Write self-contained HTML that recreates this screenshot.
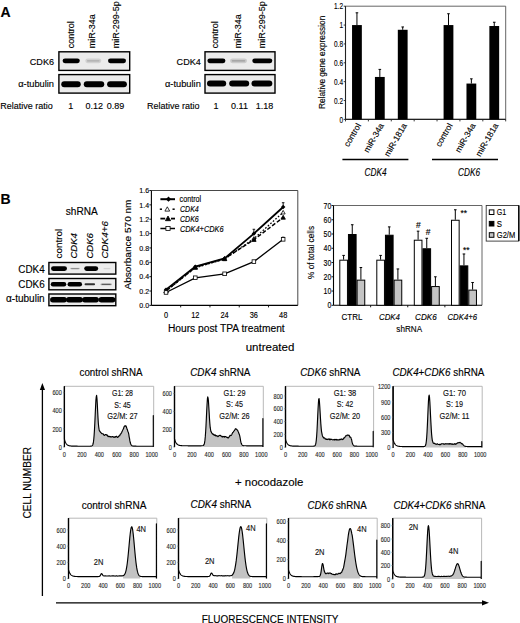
<!DOCTYPE html>
<html><head><meta charset="utf-8"><style>
html,body{margin:0;padding:0;background:#fff;}
svg{display:block;font-family:"Liberation Sans", sans-serif;}
text{stroke:currentColor;stroke-width:0.14px;}
</style></head><body>
<svg width="520" height="623" viewBox="0 0 520 623">
<defs><filter id="bl" x="-20%" y="-80%" width="140%" height="260%"><feGaussianBlur stdDeviation="0.75"/></filter></defs>
<rect width="520" height="623" fill="#fff"/>
<text x="0.5" y="17" font-size="14" text-anchor="start" fill="#000" color="#000" font-weight="bold" >A</text>
<text transform="translate(74.2,48.2) rotate(-90)" font-size="9" text-anchor="start" fill="#000" color="#000"  >control</text>
<text transform="translate(95,48.2) rotate(-90)" font-size="9" text-anchor="start" fill="#000" color="#000"  >miR-34a</text>
<text transform="translate(118.6,48.2) rotate(-90)" font-size="9" text-anchor="start" fill="#000" color="#000"  >miR-299-5p</text>
<rect x="58.900000000000006" y="51.8" width="70.8" height="18.6" fill="#ebebeb" stroke="#000" stroke-width="1.4" />
<rect x="58.900000000000006" y="74.6" width="70.8" height="18.5" fill="#ebebeb" stroke="#000" stroke-width="1.4" />
<rect x="62.6" y="58.449999999999996" width="17.2" height="4.7" rx="2.35" ry="2.35" fill="#000" fill-opacity="1.00" filter="url(#bl)"/>
<rect x="85.3" y="58.449999999999996" width="16" height="4.7" rx="2.35" ry="2.35" fill="#000" fill-opacity="0.11" filter="url(#bl)"/>
<rect x="86.89999999999999" y="60.199999999999996" width="12.8" height="1.2" rx="0.6" fill="#000" fill-opacity="0.18" filter="url(#bl)"/>
<rect x="108.0" y="58.449999999999996" width="18" height="4.7" rx="2.35" ry="2.35" fill="#000" fill-opacity="1.00" filter="url(#bl)"/>
<rect x="61.25" y="81.2" width="19.5" height="6.0" rx="3.0" ry="3.0" fill="#000" fill-opacity="1.00" filter="url(#bl)"/>
<rect x="83.75" y="81.2" width="20.5" height="6.0" rx="3.0" ry="3.0" fill="#000" fill-opacity="1.00" filter="url(#bl)"/>
<rect x="107.1" y="81.2" width="19.8" height="6.0" rx="3.0" ry="3.0" fill="#000" fill-opacity="1.00" filter="url(#bl)"/>
<text x="54" y="65" font-size="9.2" text-anchor="end" fill="#000" color="#000" textLength="24.2" lengthAdjust="spacingAndGlyphs" >CDK6</text>
<text x="54" y="86.8" font-size="9.2" text-anchor="end" fill="#000" color="#000" textLength="35.8" lengthAdjust="spacingAndGlyphs" >&#945;-tubulin</text>
<text x="0.3" y="109.3" font-size="9.9" text-anchor="start" fill="#000" color="#000" textLength="52.5" lengthAdjust="spacingAndGlyphs" >Relative ratio</text>
<text x="70.8" y="109.3" font-size="9.9" text-anchor="middle" fill="#000" color="#000" textLength="5.0" lengthAdjust="spacingAndGlyphs" >1</text>
<text x="94.3" y="109.3" font-size="9.9" text-anchor="middle" fill="#000" color="#000" textLength="17.51" lengthAdjust="spacingAndGlyphs" >0.12</text>
<text x="115.5" y="109.3" font-size="9.9" text-anchor="middle" fill="#000" color="#000" textLength="17.51" lengthAdjust="spacingAndGlyphs" >0.89</text>
<text transform="translate(218.2,48.2) rotate(-90)" font-size="9" text-anchor="start" fill="#000" color="#000"  >control</text>
<text transform="translate(241,48.2) rotate(-90)" font-size="9" text-anchor="start" fill="#000" color="#000"  >miR-34a</text>
<text transform="translate(265,48.2) rotate(-90)" font-size="9" text-anchor="start" fill="#000" color="#000"  >miR-299-5p</text>
<rect x="205.0" y="51.8" width="69.99999999999997" height="18.6" fill="#ebebeb" stroke="#000" stroke-width="1.4" />
<rect x="205.0" y="74.6" width="69.99999999999997" height="18.5" fill="#ebebeb" stroke="#000" stroke-width="1.4" />
<rect x="207.4" y="58.449999999999996" width="18" height="4.7" rx="2.35" ry="2.35" fill="#000" fill-opacity="1.00" filter="url(#bl)"/>
<rect x="230.0" y="58.449999999999996" width="17" height="4.7" rx="2.35" ry="2.35" fill="#000" fill-opacity="0.14" filter="url(#bl)"/>
<rect x="231.7" y="60.199999999999996" width="13.600000000000001" height="1.2" rx="0.6" fill="#000" fill-opacity="0.23" filter="url(#bl)"/>
<rect x="252.3" y="58.449999999999996" width="20" height="4.7" rx="2.35" ry="2.35" fill="#000" fill-opacity="1.00" filter="url(#bl)"/>
<rect x="207.0" y="80.6" width="19.2" height="6.0" rx="3.0" ry="3.0" fill="#000" fill-opacity="1.00" filter="url(#bl)"/>
<rect x="229.2" y="80.6" width="20" height="6.0" rx="3.0" ry="3.0" fill="#000" fill-opacity="1.00" filter="url(#bl)"/>
<rect x="251.49999999999997" y="80.6" width="20.8" height="6.0" rx="3.0" ry="3.0" fill="#000" fill-opacity="1.00" filter="url(#bl)"/>
<text x="200.8" y="65" font-size="9.2" text-anchor="end" fill="#000" color="#000" textLength="24.2" lengthAdjust="spacingAndGlyphs" >CDK4</text>
<text x="200.8" y="86.8" font-size="9.2" text-anchor="end" fill="#000" color="#000" textLength="35.8" lengthAdjust="spacingAndGlyphs" >&#945;-tubulin</text>
<text x="147" y="109.3" font-size="9.9" text-anchor="start" fill="#000" color="#000" textLength="52.5" lengthAdjust="spacingAndGlyphs" >Relative ratio</text>
<text x="216" y="109.3" font-size="9.9" text-anchor="middle" fill="#000" color="#000" textLength="5.0" lengthAdjust="spacingAndGlyphs" >1</text>
<text x="239.5" y="109.3" font-size="9.9" text-anchor="middle" fill="#000" color="#000" textLength="16.85" lengthAdjust="spacingAndGlyphs" >0.11</text>
<text x="264.5" y="109.3" font-size="9.9" text-anchor="middle" fill="#000" color="#000" textLength="17.51" lengthAdjust="spacingAndGlyphs" >1.18</text>
<polyline points="505.7,6.2 345.5,6.2 345.5,119.4 505.7,119.4 505.7,6.2" fill="none" stroke="#555" stroke-width="0.9"/>
<line x1="345.5" y1="6.2" x2="345.5" y2="119.4" stroke="#222" stroke-width="1.1" />
<line x1="345.5" y1="119.4" x2="505.7" y2="119.4" stroke="#222" stroke-width="1.1" />
<line x1="345.5" y1="119.4" x2="345.5" y2="121.4" stroke="#222" stroke-width="0.9" />
<line x1="368.3857142857143" y1="119.4" x2="368.3857142857143" y2="121.4" stroke="#222" stroke-width="0.9" />
<line x1="391.27142857142854" y1="119.4" x2="391.27142857142854" y2="121.4" stroke="#222" stroke-width="0.9" />
<line x1="414.15714285714284" y1="119.4" x2="414.15714285714284" y2="121.4" stroke="#222" stroke-width="0.9" />
<line x1="437.04285714285714" y1="119.4" x2="437.04285714285714" y2="121.4" stroke="#222" stroke-width="0.9" />
<line x1="459.92857142857144" y1="119.4" x2="459.92857142857144" y2="121.4" stroke="#222" stroke-width="0.9" />
<line x1="482.8142857142857" y1="119.4" x2="482.8142857142857" y2="121.4" stroke="#222" stroke-width="0.9" />
<line x1="505.7" y1="119.4" x2="505.7" y2="121.4" stroke="#222" stroke-width="0.9" />
<line x1="343.7" y1="119.4" x2="345.5" y2="119.4" stroke="#222" stroke-width="0.9" />
<text transform="translate(343.0,122.60000000000001) scale(0.72,1)" font-size="9" text-anchor="end">0</text>
<line x1="343.7" y1="100.53333333333333" x2="345.5" y2="100.53333333333333" stroke="#222" stroke-width="0.9" />
<text transform="translate(343.0,103.73333333333333) scale(0.72,1)" font-size="9" text-anchor="end">0.2</text>
<line x1="343.7" y1="81.66666666666667" x2="345.5" y2="81.66666666666667" stroke="#222" stroke-width="0.9" />
<text transform="translate(343.0,84.86666666666667) scale(0.72,1)" font-size="9" text-anchor="end">0.4</text>
<line x1="343.7" y1="62.800000000000004" x2="345.5" y2="62.800000000000004" stroke="#222" stroke-width="0.9" />
<text transform="translate(343.0,66.0) scale(0.72,1)" font-size="9" text-anchor="end">0.6</text>
<line x1="343.7" y1="43.93333333333334" x2="345.5" y2="43.93333333333334" stroke="#222" stroke-width="0.9" />
<text transform="translate(343.0,47.13333333333334) scale(0.72,1)" font-size="9" text-anchor="end">0.8</text>
<line x1="343.7" y1="25.066666666666663" x2="345.5" y2="25.066666666666663" stroke="#222" stroke-width="0.9" />
<text transform="translate(343.0,28.266666666666662) scale(0.72,1)" font-size="9" text-anchor="end">1</text>
<line x1="343.7" y1="6.200000000000003" x2="345.5" y2="6.200000000000003" stroke="#222" stroke-width="0.9" />
<text transform="translate(343.0,9.400000000000002) scale(0.72,1)" font-size="9" text-anchor="end">1.2</text>
<text transform="translate(324.5,109) rotate(-90)" font-size="8.6" text-anchor="start" fill="#000" color="#000" textLength="93.3" lengthAdjust="spacingAndGlyphs" >Relative gene expression</text>
<rect x="352.04285714285714" y="25.066666666666663" width="9.8" height="94.33333333333334" fill="#000" stroke="none" stroke-width="1" />
<line x1="356.9428571428571" y1="12.803333333333342" x2="356.9428571428571" y2="25.066666666666663" stroke="#000" stroke-width="1.0" />
<line x1="355.6428571428571" y1="12.803333333333342" x2="358.24285714285713" y2="12.803333333333342" stroke="#000" stroke-width="1.0" />
<rect x="374.92857142857144" y="76.95" width="9.8" height="42.45" fill="#000" stroke="none" stroke-width="1" />
<line x1="379.8285714285714" y1="69.40333333333334" x2="379.8285714285714" y2="76.95" stroke="#000" stroke-width="1.0" />
<line x1="378.5285714285714" y1="69.40333333333334" x2="381.12857142857143" y2="69.40333333333334" stroke="#000" stroke-width="1.0" />
<rect x="397.81428571428575" y="29.783333333333346" width="9.8" height="89.61666666666666" fill="#000" stroke="none" stroke-width="1" />
<line x1="402.7142857142857" y1="26.953333333333333" x2="402.7142857142857" y2="29.783333333333346" stroke="#000" stroke-width="1.0" />
<line x1="401.4142857142857" y1="26.953333333333333" x2="404.01428571428573" y2="26.953333333333333" stroke="#000" stroke-width="1.0" />
<rect x="443.5857142857143" y="25.066666666666663" width="9.8" height="94.33333333333334" fill="#000" stroke="none" stroke-width="1" />
<line x1="448.48571428571427" y1="13.746666666666655" x2="448.48571428571427" y2="25.066666666666663" stroke="#000" stroke-width="1.0" />
<line x1="447.18571428571425" y1="13.746666666666655" x2="449.7857142857143" y2="13.746666666666655" stroke="#000" stroke-width="1.0" />
<rect x="466.4714285714286" y="83.55333333333334" width="9.8" height="35.846666666666664" fill="#000" stroke="none" stroke-width="1" />
<line x1="471.37142857142857" y1="78.83666666666667" x2="471.37142857142857" y2="83.55333333333334" stroke="#000" stroke-width="1.0" />
<line x1="470.07142857142856" y1="78.83666666666667" x2="472.6714285714286" y2="78.83666666666667" stroke="#000" stroke-width="1.0" />
<rect x="489.3571428571429" y="26.010000000000005" width="9.8" height="93.39" fill="#000" stroke="none" stroke-width="1" />
<line x1="494.25714285714287" y1="22.236666666666665" x2="494.25714285714287" y2="26.010000000000005" stroke="#000" stroke-width="1.0" />
<line x1="492.95714285714286" y1="22.236666666666665" x2="495.5571428571429" y2="22.236666666666665" stroke="#000" stroke-width="1.0" />
<text transform="translate(361.3428571428571,125.4) rotate(-60)" font-size="8.5" text-anchor="end">control</text>
<text transform="translate(384.2285714285714,125.4) rotate(-60)" font-size="8.5" text-anchor="end">miR-34a</text>
<text transform="translate(407.1142857142857,125.4) rotate(-60)" font-size="8.5" text-anchor="end">miR-181a</text>
<text transform="translate(452.88571428571424,125.4) rotate(-60)" font-size="8.5" text-anchor="end">control</text>
<text transform="translate(475.77142857142854,125.4) rotate(-60)" font-size="8.5" text-anchor="end">miR-34a</text>
<text transform="translate(498.65714285714284,125.4) rotate(-60)" font-size="8.5" text-anchor="end">miR-181a</text>
<line x1="342.4" y1="159.4" x2="408.4" y2="159.4" stroke="#000" stroke-width="1.5" />
<line x1="432" y1="159.4" x2="498" y2="159.4" stroke="#000" stroke-width="1.5" />
<text x="375.5" y="176.0" font-size="10" text-anchor="middle" fill="#000" color="#000" font-style="italic" textLength="22" lengthAdjust="spacingAndGlyphs" >CDK4</text>
<text x="469" y="176.0" font-size="10" text-anchor="middle" fill="#000" color="#000" font-style="italic" textLength="22" lengthAdjust="spacingAndGlyphs" >CDK6</text>
<text x="0.5" y="203.5" font-size="14" text-anchor="start" fill="#000" color="#000" font-weight="bold" >B</text>
<text x="65.8" y="214.6" font-size="10" text-anchor="start" fill="#000" color="#000" textLength="32" lengthAdjust="spacingAndGlyphs" >shRNA</text>
<text transform="translate(61.6,258.5) rotate(-90)" font-size="9.9" text-anchor="start" fill="#000" color="#000" textLength="29.6" lengthAdjust="spacingAndGlyphs" >control</text>
<text transform="translate(77,258.6) rotate(-90)" font-size="9.4" text-anchor="start" fill="#000" color="#000" font-style="italic" textLength="25.5" lengthAdjust="spacingAndGlyphs" >CDK4</text>
<text transform="translate(92.9,258.6) rotate(-90)" font-size="9.4" text-anchor="start" fill="#000" color="#000" font-style="italic" textLength="25.5" lengthAdjust="spacingAndGlyphs" >CDK6</text>
<text transform="translate(108.3,258.6) rotate(-90)" font-size="9.6" text-anchor="start" fill="#000" color="#000" font-style="italic" textLength="37.5" lengthAdjust="spacingAndGlyphs" >CDK4+6</text>
<rect x="48.900000000000006" y="262.5" width="66.89999999999999" height="11.6" fill="#ececec" stroke="#000" stroke-width="1.4" />
<rect x="48.900000000000006" y="278.5" width="66.89999999999999" height="11.299999999999999" fill="#ececec" stroke="#000" stroke-width="1.4" />
<rect x="48.900000000000006" y="294.0" width="66.89999999999999" height="11.7" fill="#ececec" stroke="#000" stroke-width="1.4" />
<rect x="51.0" y="266.20000000000005" width="16" height="4.8" rx="2.4" ry="2.4" fill="#000" fill-opacity="1.00" filter="url(#bl)"/>
<rect x="70.0" y="267.85" width="10" height="1.5" rx="0.75" ry="0.75" fill="#000" fill-opacity="0.17" filter="url(#bl)"/>
<rect x="71.0" y="268.0" width="8.0" height="1.2" rx="0.6" fill="#000" fill-opacity="0.27" filter="url(#bl)"/>
<rect x="84.2" y="266.15000000000003" width="14" height="4.9" rx="2.45" ry="2.45" fill="#000" fill-opacity="1.00" filter="url(#bl)"/>
<rect x="103.0" y="267.85" width="8" height="1.5" rx="0.75" ry="0.75" fill="#000" fill-opacity="0.04" filter="url(#bl)"/>
<rect x="103.8" y="268.0" width="6.4" height="1.2" rx="0.6" fill="#000" fill-opacity="0.07" filter="url(#bl)"/>
<rect x="50.75" y="282.0" width="15.5" height="4.4" rx="2.2" ry="2.2" fill="#000" fill-opacity="1.00" filter="url(#bl)"/>
<rect x="67.55" y="282.0" width="14.5" height="4.4" rx="2.2" ry="2.2" fill="#000" fill-opacity="1.00" filter="url(#bl)"/>
<rect x="84.55" y="283.35" width="10.5" height="1.9" rx="0.95" ry="0.95" fill="#000" fill-opacity="0.80" filter="url(#bl)"/>
<rect x="100.45" y="283.40000000000003" width="11.5" height="1.8" rx="0.9" ry="0.9" fill="#000" fill-opacity="0.28" filter="url(#bl)"/>
<rect x="101.60000000000001" y="283.7" width="9.200000000000001" height="1.2" rx="0.6" fill="#000" fill-opacity="0.45" filter="url(#bl)"/>
<rect x="50.1" y="297.0" width="16.8" height="5.4" rx="2.7" ry="2.7" fill="#000" fill-opacity="1.00" filter="url(#bl)"/>
<rect x="66.1" y="297.0" width="16.8" height="5.4" rx="2.7" ry="2.7" fill="#000" fill-opacity="1.00" filter="url(#bl)"/>
<rect x="82.1" y="297.0" width="16.8" height="5.4" rx="2.7" ry="2.7" fill="#000" fill-opacity="1.00" filter="url(#bl)"/>
<rect x="98.6" y="297.0" width="16.8" height="5.4" rx="2.7" ry="2.7" fill="#000" fill-opacity="1.00" filter="url(#bl)"/>
<text x="44.7" y="272.8" font-size="10" text-anchor="end" fill="#000" color="#000" textLength="26.4" lengthAdjust="spacingAndGlyphs" >CDK4</text>
<text x="44.7" y="287.7" font-size="10" text-anchor="end" fill="#000" color="#000" textLength="26.4" lengthAdjust="spacingAndGlyphs" >CDK6</text>
<text x="44.7" y="302.3" font-size="10" text-anchor="end" fill="#000" color="#000" textLength="38.7" lengthAdjust="spacingAndGlyphs" >&#945;-tubulin</text>
<polyline points="297.8,305.4 297.8,190.5 151.4,190.5" fill="none" stroke="#333" stroke-width="0.9"/>
<line x1="151.4" y1="190.5" x2="151.4" y2="305.4" stroke="#000" stroke-width="1.1" />
<line x1="151.4" y1="305.4" x2="297.8" y2="305.4" stroke="#000" stroke-width="1.1" />
<line x1="149.4" y1="305.4" x2="151.4" y2="305.4" stroke="#000" stroke-width="0.9" />
<text x="149.1" y="308.2" font-size="7.84" text-anchor="end" fill="#000" color="#000" textLength="9.8" lengthAdjust="spacingAndGlyphs" >0.0</text>
<line x1="149.4" y1="291.03749999999997" x2="151.4" y2="291.03749999999997" stroke="#000" stroke-width="0.9" />
<text x="149.1" y="293.8375" font-size="7.84" text-anchor="end" fill="#000" color="#000" textLength="9.8" lengthAdjust="spacingAndGlyphs" >0.2</text>
<line x1="149.4" y1="276.67499999999995" x2="151.4" y2="276.67499999999995" stroke="#000" stroke-width="0.9" />
<text x="149.1" y="279.47499999999997" font-size="7.84" text-anchor="end" fill="#000" color="#000" textLength="9.8" lengthAdjust="spacingAndGlyphs" >0.4</text>
<line x1="149.4" y1="262.3125" x2="151.4" y2="262.3125" stroke="#000" stroke-width="0.9" />
<text x="149.1" y="265.1125" font-size="7.84" text-anchor="end" fill="#000" color="#000" textLength="9.8" lengthAdjust="spacingAndGlyphs" >0.6</text>
<line x1="149.4" y1="247.95" x2="151.4" y2="247.95" stroke="#000" stroke-width="0.9" />
<text x="149.1" y="250.75" font-size="7.84" text-anchor="end" fill="#000" color="#000" textLength="9.8" lengthAdjust="spacingAndGlyphs" >0.8</text>
<line x1="149.4" y1="233.58749999999998" x2="151.4" y2="233.58749999999998" stroke="#000" stroke-width="0.9" />
<text x="149.1" y="236.3875" font-size="7.84" text-anchor="end" fill="#000" color="#000" textLength="9.8" lengthAdjust="spacingAndGlyphs" >1.0</text>
<line x1="149.4" y1="219.22499999999997" x2="151.4" y2="219.22499999999997" stroke="#000" stroke-width="0.9" />
<text x="149.1" y="222.02499999999998" font-size="7.84" text-anchor="end" fill="#000" color="#000" textLength="9.8" lengthAdjust="spacingAndGlyphs" >1.2</text>
<line x1="149.4" y1="204.8625" x2="151.4" y2="204.8625" stroke="#000" stroke-width="0.9" />
<text x="149.1" y="207.66250000000002" font-size="7.84" text-anchor="end" fill="#000" color="#000" textLength="9.8" lengthAdjust="spacingAndGlyphs" >1.4</text>
<line x1="149.4" y1="190.5" x2="151.4" y2="190.5" stroke="#000" stroke-width="0.9" />
<text x="149.1" y="193.3" font-size="7.84" text-anchor="end" fill="#000" color="#000" textLength="9.8" lengthAdjust="spacingAndGlyphs" >1.6</text>
<line x1="180.68" y1="305.4" x2="180.68" y2="307.4" stroke="#000" stroke-width="0.9" />
<line x1="209.96" y1="305.4" x2="209.96" y2="307.4" stroke="#000" stroke-width="0.9" />
<line x1="239.24" y1="305.4" x2="239.24" y2="307.4" stroke="#000" stroke-width="0.9" />
<line x1="268.52" y1="305.4" x2="268.52" y2="307.4" stroke="#000" stroke-width="0.9" />
<text x="166.04000000000002" y="318.2" font-size="8.14" text-anchor="middle" fill="#000" color="#000" textLength="4.12" lengthAdjust="spacingAndGlyphs" >0</text>
<text x="195.32" y="318.2" font-size="8.14" text-anchor="middle" fill="#000" color="#000" textLength="8.23" lengthAdjust="spacingAndGlyphs" >12</text>
<text x="224.60000000000002" y="318.2" font-size="8.14" text-anchor="middle" fill="#000" color="#000" textLength="8.23" lengthAdjust="spacingAndGlyphs" >24</text>
<text x="253.88" y="318.2" font-size="8.14" text-anchor="middle" fill="#000" color="#000" textLength="8.23" lengthAdjust="spacingAndGlyphs" >36</text>
<text x="283.15999999999997" y="318.2" font-size="8.14" text-anchor="middle" fill="#000" color="#000" textLength="8.23" lengthAdjust="spacingAndGlyphs" >48</text>
<text x="167.9" y="332.3" font-size="10" text-anchor="start" fill="#000" color="#000" textLength="116.8" lengthAdjust="spacingAndGlyphs" >Hours post TPA treatment</text>
<text transform="translate(130.7,289.5) rotate(-90)" font-size="9.4" text-anchor="start" fill="#000" color="#000" textLength="90" lengthAdjust="spacingAndGlyphs" >Absorbance 570 nm</text>
<polyline points="166.0,291.0 195.3,267.7 224.6,259.1 253.9,238.6 283.2,212.4" fill="none" stroke="#000" stroke-width="1.3" stroke-dasharray="1.6 1.8"/>
<polyline points="166.0,291.0 195.3,267.3 224.6,258.7 253.9,239.7 283.2,217.4" fill="none" stroke="#000" stroke-width="1.5" stroke-dasharray="4 2"/>
<polyline points="166.0,292.5 195.3,277.8 224.6,273.8 253.9,261.6 283.2,239.3" fill="none" stroke="#000" stroke-width="1.3"/>
<polyline points="166.0,289.6 195.3,266.6 224.6,258.4 253.9,233.6 283.2,207.0" fill="none" stroke="#000" stroke-width="1.8"/>
<line x1="253.88" y1="229.27875" x2="253.88" y2="233.58749999999998" stroke="#000" stroke-width="0.9" />
<line x1="252.57999999999998" y1="229.27875" x2="255.18" y2="229.27875" stroke="#000" stroke-width="0.9" />
<line x1="283.15999999999997" y1="202.708125" x2="283.15999999999997" y2="207.016875" stroke="#000" stroke-width="0.9" />
<line x1="281.85999999999996" y1="202.708125" x2="284.46" y2="202.708125" stroke="#000" stroke-width="0.9" />
<line x1="283.15999999999997" y1="237.178125" x2="283.15999999999997" y2="239.33249999999998" stroke="#000" stroke-width="0.9" />
<line x1="281.85999999999996" y1="237.178125" x2="284.46" y2="237.178125" stroke="#000" stroke-width="0.9" />
<polygon points="166.04000000000002,289.03749999999997 168.04000000000002,292.6375 164.04000000000002,292.6375" fill="#fff" stroke="#000" stroke-width="0.8"/>
<polygon points="195.32,265.69843749999995 197.32,269.2984375 193.32,269.2984375" fill="#fff" stroke="#000" stroke-width="0.8"/>
<polygon points="224.60000000000002,257.0809375 226.60000000000002,260.6809375 222.60000000000002,260.6809375" fill="#fff" stroke="#000" stroke-width="0.8"/>
<polygon points="253.88,236.614375 255.88,240.214375 251.88,240.214375" fill="#fff" stroke="#000" stroke-width="0.8"/>
<polygon points="283.15999999999997,210.40281249999998 285.15999999999997,214.00281249999998 281.15999999999997,214.00281249999998" fill="#fff" stroke="#000" stroke-width="0.8"/>
<polygon points="166.04000000000002,288.8375 168.24,292.79749999999996 163.84000000000003,292.79749999999996" fill="#000" stroke="#000" stroke-width="0.8"/>
<polygon points="195.32,265.139375 197.51999999999998,269.09937499999995 193.12,269.09937499999995" fill="#000" stroke="#000" stroke-width="0.8"/>
<polygon points="224.60000000000002,256.521875 226.8,260.481875 222.40000000000003,260.481875" fill="#000" stroke="#000" stroke-width="0.8"/>
<polygon points="253.88,237.4915625 256.08,241.45156249999997 251.68,241.45156249999997" fill="#000" stroke="#000" stroke-width="0.8"/>
<polygon points="283.15999999999997,215.2296875 285.35999999999996,219.1896875 280.96,219.1896875" fill="#000" stroke="#000" stroke-width="0.8"/>
<polygon points="166.04000000000002,287.40125 168.24,289.60125 166.04000000000002,291.80125 163.84000000000003,289.60125" fill="#000"/>
<polygon points="195.32,264.42125 197.51999999999998,266.62125 195.32,268.82124999999996 193.12,266.62125" fill="#000"/>
<polygon points="224.60000000000002,256.16281250000003 226.8,258.3628125 224.60000000000002,260.5628125 222.40000000000003,258.3628125" fill="#000"/>
<polygon points="253.88,231.3875 256.08,233.58749999999998 253.88,235.78749999999997 251.68,233.58749999999998" fill="#000"/>
<polygon points="283.15999999999997,204.816875 285.35999999999996,207.016875 283.15999999999997,209.216875 280.96,207.016875" fill="#000"/>
<rect x="164.24" y="290.67375" width="3.6" height="3.6" fill="#fff" stroke="#000" stroke-width="0.8"/>
<rect x="193.51999999999998" y="275.9521875" width="3.6" height="3.6" fill="#fff" stroke="#000" stroke-width="0.8"/>
<rect x="222.8" y="272.0025" width="3.6" height="3.6" fill="#fff" stroke="#000" stroke-width="0.8"/>
<rect x="252.07999999999998" y="259.794375" width="3.6" height="3.6" fill="#fff" stroke="#000" stroke-width="0.8"/>
<rect x="281.35999999999996" y="237.53249999999997" width="3.6" height="3.6" fill="#fff" stroke="#000" stroke-width="0.8"/>
<line x1="160.4" y1="199.2" x2="175" y2="199.2" stroke="#000" stroke-width="2.0" />
<polygon points="168.5,196.6 171.1,199.2 168.5,201.79999999999998 165.9,199.2" fill="#000"/>
<line x1="159.8" y1="209.2" x2="162" y2="209.2" stroke="#000" stroke-width="1.5" />
<polygon points="167.3,206.79999999999998 169.70000000000002,211.11999999999998 164.9,211.11999999999998" fill="#fff" stroke="#000" stroke-width="0.8"/>
<line x1="172.5" y1="209.2" x2="174.7" y2="209.2" stroke="#000" stroke-width="1.5" />
<line x1="160.4" y1="218.6" x2="165.2" y2="218.6" stroke="#000" stroke-width="1.8" />
<polygon points="168,216.0 170.6,220.68 165.4,220.68" fill="#000" stroke="#000" stroke-width="0.8"/>
<line x1="171" y1="218.6" x2="175" y2="218.6" stroke="#000" stroke-width="1.8" />
<line x1="160.4" y1="228.5" x2="175" y2="228.5" stroke="#000" stroke-width="1.5" />
<rect x="165.9" y="226.4" width="4.2" height="4.2" fill="#fff" stroke="#000" stroke-width="0.8"/>
<text x="179.6" y="202.2" font-size="8.6" text-anchor="start" fill="#000" color="#000" textLength="21.6" lengthAdjust="spacingAndGlyphs" >control</text>
<text x="180" y="212.2" font-size="8.6" text-anchor="start" fill="#000" color="#000" font-style="italic" textLength="18.8" lengthAdjust="spacingAndGlyphs" >CDK4</text>
<text x="180" y="221.6" font-size="8.6" text-anchor="start" fill="#000" color="#000" font-style="italic" textLength="18.8" lengthAdjust="spacingAndGlyphs" >CDK6</text>
<text x="180" y="231.5" font-size="8.6" text-anchor="start" fill="#000" color="#000" font-style="italic" textLength="43.5" lengthAdjust="spacingAndGlyphs" >CDK4+CDK6</text>
<polyline points="482,305.3 482,205.5 333.5,205.5" fill="none" stroke="#555" stroke-width="0.9"/>
<line x1="333.5" y1="205.5" x2="333.5" y2="305.3" stroke="#000" stroke-width="1.1" />
<line x1="333.5" y1="305.3" x2="482" y2="305.3" stroke="#000" stroke-width="1.1" />
<line x1="331.5" y1="305.3" x2="333.5" y2="305.3" stroke="#000" stroke-width="0.9" />
<text x="331.3" y="308.3" font-size="8.6" text-anchor="end" fill="#000" color="#000" textLength="3.85" lengthAdjust="spacingAndGlyphs" >0</text>
<line x1="331.5" y1="291.04285714285714" x2="333.5" y2="291.04285714285714" stroke="#000" stroke-width="0.9" />
<text x="331.3" y="294.04285714285714" font-size="8.6" text-anchor="end" fill="#000" color="#000" textLength="7.7" lengthAdjust="spacingAndGlyphs" >10</text>
<line x1="331.5" y1="276.7857142857143" x2="333.5" y2="276.7857142857143" stroke="#000" stroke-width="0.9" />
<text x="331.3" y="279.7857142857143" font-size="8.6" text-anchor="end" fill="#000" color="#000" textLength="7.7" lengthAdjust="spacingAndGlyphs" >20</text>
<line x1="331.5" y1="262.5285714285714" x2="333.5" y2="262.5285714285714" stroke="#000" stroke-width="0.9" />
<text x="331.3" y="265.5285714285714" font-size="8.6" text-anchor="end" fill="#000" color="#000" textLength="7.7" lengthAdjust="spacingAndGlyphs" >30</text>
<line x1="331.5" y1="248.27142857142857" x2="333.5" y2="248.27142857142857" stroke="#000" stroke-width="0.9" />
<text x="331.3" y="251.27142857142857" font-size="8.6" text-anchor="end" fill="#000" color="#000" textLength="7.7" lengthAdjust="spacingAndGlyphs" >40</text>
<line x1="331.5" y1="234.01428571428573" x2="333.5" y2="234.01428571428573" stroke="#000" stroke-width="0.9" />
<text x="331.3" y="237.01428571428573" font-size="8.6" text-anchor="end" fill="#000" color="#000" textLength="7.7" lengthAdjust="spacingAndGlyphs" >50</text>
<line x1="331.5" y1="219.75714285714287" x2="333.5" y2="219.75714285714287" stroke="#000" stroke-width="0.9" />
<text x="331.3" y="222.75714285714287" font-size="8.6" text-anchor="end" fill="#000" color="#000" textLength="7.7" lengthAdjust="spacingAndGlyphs" >60</text>
<line x1="331.5" y1="205.5" x2="333.5" y2="205.5" stroke="#000" stroke-width="0.9" />
<text x="331.3" y="208.5" font-size="8.6" text-anchor="end" fill="#000" color="#000" textLength="7.7" lengthAdjust="spacingAndGlyphs" >70</text>
<line x1="370.625" y1="305.3" x2="370.625" y2="307.3" stroke="#000" stroke-width="0.9" />
<line x1="407.75" y1="305.3" x2="407.75" y2="307.3" stroke="#000" stroke-width="0.9" />
<line x1="444.875" y1="305.3" x2="444.875" y2="307.3" stroke="#000" stroke-width="0.9" />
<text transform="translate(314,278.9) rotate(-90)" font-size="8.4" text-anchor="start" fill="#000" color="#000" textLength="52.9" lengthAdjust="spacingAndGlyphs" >% of total cells</text>
<line x1="343.6" y1="255.4" x2="343.6" y2="259.6771428571429" stroke="#000" stroke-width="1.0" />
<line x1="342.3" y1="255.4" x2="344.90000000000003" y2="255.4" stroke="#000" stroke-width="1.0" />
<rect x="339.8" y="260.1771428571429" width="7.65" height="45.12285714285713" fill="#fff" stroke="#000" stroke-width="1.0" />
<line x1="352.25" y1="224.74714285714288" x2="352.25" y2="234.01428571428573" stroke="#000" stroke-width="1.0" />
<line x1="350.95" y1="224.74714285714288" x2="353.55" y2="224.74714285714288" stroke="#000" stroke-width="1.0" />
<rect x="348.45" y="234.51428571428573" width="7.65" height="70.78571428571428" fill="#000" stroke="#000" stroke-width="1.0" />
<line x1="360.90000000000003" y1="267.5185714285714" x2="360.90000000000003" y2="279.63714285714286" stroke="#000" stroke-width="1.0" />
<line x1="359.6" y1="267.5185714285714" x2="362.20000000000005" y2="267.5185714285714" stroke="#000" stroke-width="1.0" />
<rect x="357.1" y="280.13714285714286" width="7.65" height="25.16285714285715" fill="#c4c4c4" stroke="#000" stroke-width="1.0" />
<line x1="380.6" y1="255.4" x2="380.6" y2="259.6771428571429" stroke="#000" stroke-width="1.0" />
<line x1="379.3" y1="255.4" x2="381.90000000000003" y2="255.4" stroke="#000" stroke-width="1.0" />
<rect x="376.8" y="260.1771428571429" width="7.65" height="45.12285714285713" fill="#fff" stroke="#000" stroke-width="1.0" />
<line x1="389.25" y1="226.8857142857143" x2="389.25" y2="234.72714285714287" stroke="#000" stroke-width="1.0" />
<line x1="387.95" y1="226.8857142857143" x2="390.55" y2="226.8857142857143" stroke="#000" stroke-width="1.0" />
<rect x="385.45" y="235.22714285714287" width="7.65" height="70.07285714285715" fill="#000" stroke="#000" stroke-width="1.0" />
<line x1="397.90000000000003" y1="268.94428571428574" x2="397.90000000000003" y2="279.63714285714286" stroke="#000" stroke-width="1.0" />
<line x1="396.6" y1="268.94428571428574" x2="399.20000000000005" y2="268.94428571428574" stroke="#000" stroke-width="1.0" />
<rect x="394.1" y="280.13714285714286" width="7.65" height="25.16285714285715" fill="#c4c4c4" stroke="#000" stroke-width="1.0" />
<line x1="418.1" y1="231.16285714285715" x2="418.1" y2="239.71714285714285" stroke="#000" stroke-width="1.0" />
<line x1="416.8" y1="231.16285714285715" x2="419.40000000000003" y2="231.16285714285715" stroke="#000" stroke-width="1.0" />
<rect x="414.3" y="240.21714285714285" width="7.65" height="65.08285714285716" fill="#fff" stroke="#000" stroke-width="1.0" />
<line x1="426.75" y1="238.29142857142858" x2="426.75" y2="248.27142857142857" stroke="#000" stroke-width="1.0" />
<line x1="425.45" y1="238.29142857142858" x2="428.05" y2="238.29142857142858" stroke="#000" stroke-width="1.0" />
<rect x="422.95" y="248.77142857142857" width="7.65" height="56.52857142857144" fill="#000" stroke="#000" stroke-width="1.0" />
<line x1="435.40000000000003" y1="276.7857142857143" x2="435.40000000000003" y2="286.05285714285714" stroke="#000" stroke-width="1.0" />
<line x1="434.1" y1="276.7857142857143" x2="436.70000000000005" y2="276.7857142857143" stroke="#000" stroke-width="1.0" />
<rect x="431.6" y="286.55285714285714" width="7.65" height="18.747142857142876" fill="#c4c4c4" stroke="#000" stroke-width="1.0" />
<line x1="455.3" y1="209.77714285714285" x2="455.3" y2="219.75714285714287" stroke="#000" stroke-width="1.0" />
<line x1="454.0" y1="209.77714285714285" x2="456.6" y2="209.77714285714285" stroke="#000" stroke-width="1.0" />
<rect x="451.5" y="220.25714285714287" width="7.65" height="85.04285714285714" fill="#fff" stroke="#000" stroke-width="1.0" />
<line x1="463.95" y1="253.9742857142857" x2="463.95" y2="265.38" stroke="#000" stroke-width="1.0" />
<line x1="462.65" y1="253.9742857142857" x2="465.25" y2="253.9742857142857" stroke="#000" stroke-width="1.0" />
<rect x="460.15" y="265.88" width="7.65" height="39.420000000000016" fill="#000" stroke="#000" stroke-width="1.0" />
<line x1="472.6" y1="282.48857142857145" x2="472.6" y2="289.6171428571429" stroke="#000" stroke-width="1.0" />
<line x1="471.3" y1="282.48857142857145" x2="473.90000000000003" y2="282.48857142857145" stroke="#000" stroke-width="1.0" />
<rect x="468.8" y="290.1171428571429" width="7.65" height="15.18285714285713" fill="#c4c4c4" stroke="#000" stroke-width="1.0" />
<text x="418.3" y="227.8" font-size="8.5" text-anchor="middle" fill="#000" color="#000"  >#</text>
<text x="428" y="234.8" font-size="8.5" text-anchor="middle" fill="#000" color="#000"  >#</text>
<text x="463.8" y="216.0" font-size="8.5" text-anchor="middle" fill="#000" color="#000"  >**</text>
<text x="466.3" y="252.6" font-size="8.5" text-anchor="middle" fill="#000" color="#000"  >**</text>
<rect x="486.2" y="205.5" width="32.6" height="35.6" fill="#fff" stroke="#333" stroke-width="0.9" />
<line x1="518.8" y1="205.5" x2="518.8" y2="241.1" stroke="#000" stroke-width="1.4" />
<rect x="489.3" y="209.89999999999998" width="4.6" height="4.6" fill="#fff" stroke="#000" stroke-width="1.0" />
<text x="496.8" y="215.29999999999998" font-size="8.6" text-anchor="start" fill="#000" color="#000" textLength="9.4" lengthAdjust="spacingAndGlyphs" >G1</text>
<rect x="489.3" y="221.39999999999998" width="4.6" height="4.6" fill="#000" stroke="#000" stroke-width="1.0" />
<text x="496.8" y="226.79999999999998" font-size="8.6" text-anchor="start" fill="#000" color="#000" textLength="5.2" lengthAdjust="spacingAndGlyphs" >S</text>
<rect x="489.3" y="232.7" width="4.6" height="4.6" fill="#c4c4c4" stroke="#000" stroke-width="1.0" />
<text x="496.8" y="238.1" font-size="8.6" text-anchor="start" fill="#000" color="#000" textLength="18.4" lengthAdjust="spacingAndGlyphs" >G2/M</text>
<text x="352" y="319.5" font-size="9" text-anchor="middle" fill="#000" color="#000" textLength="20.9" lengthAdjust="spacingAndGlyphs" >CTRL</text>
<text x="389.5" y="319.5" font-size="9" text-anchor="middle" fill="#000" color="#000" font-style="italic" textLength="20.9" lengthAdjust="spacingAndGlyphs" >CDK4</text>
<text x="425.9" y="319.5" font-size="9" text-anchor="middle" fill="#000" color="#000" font-style="italic" textLength="21.6" lengthAdjust="spacingAndGlyphs" >CDK6</text>
<text x="462.3" y="319.5" font-size="9" text-anchor="middle" fill="#000" color="#000" font-style="italic" textLength="29.6" lengthAdjust="spacingAndGlyphs" >CDK4+6</text>
<text x="409.2" y="332.0" font-size="9.9" text-anchor="middle" fill="#000" color="#000" textLength="25.7" lengthAdjust="spacingAndGlyphs" >shRNA</text>
<text x="270" y="351.2" font-size="11.5" text-anchor="middle" fill="#000" color="#000" textLength="48.6" lengthAdjust="spacingAndGlyphs" >untreated</text>
<text x="269.2" y="485.8" font-size="11" text-anchor="middle" fill="#000" color="#000" textLength="68.4" lengthAdjust="spacingAndGlyphs" >+ nocodazole</text>
<line x1="42.4" y1="388" x2="42.4" y2="596" stroke="#000" stroke-width="1.3" />
<polygon points="42.4,383 39.8,390 45,390" fill="#000"/>
<line x1="56" y1="602.8" x2="484" y2="602.8" stroke="#000" stroke-width="1.3" />
<polygon points="489,602.8 482,600.2 482,605.4" fill="#000"/>
<text transform="translate(31.3,518.5) rotate(-90)" font-size="10" text-anchor="start" fill="#000" color="#000" textLength="71.5" lengthAdjust="spacingAndGlyphs" >CELL NUMBER</text>
<text x="201.7" y="622.6" font-size="10.6" text-anchor="start" fill="#000" color="#000" textLength="136.8" lengthAdjust="spacingAndGlyphs" >FLUORESCENCE INTENSITY</text>
<polyline points="64.40,386.30 153.70,386.30 153.70,446.90" fill="none" stroke="#b0b0b0" stroke-width="0.9"/>
<path d="M92.75,446.90 L92.75,444.92 L93.10,443.79 L93.45,441.91 L93.80,439.01 L94.15,434.83 L94.50,429.26 L94.85,422.43 L95.20,414.80 L95.55,407.23 L95.90,400.36 L96.25,396.87 L96.60,395.38 L96.95,398.21 L97.30,404.05 L97.65,411.28 L98.00,417.89 L98.35,423.30 L98.70,426.87 L99.05,429.17 L99.40,430.92 L99.75,431.12 L100.10,431.57 L100.45,432.33 L100.80,432.58 L101.15,432.85 L101.50,433.25 L101.85,433.60 L102.20,433.69 L102.55,433.71 L102.90,433.79 L103.25,434.06 L103.60,434.77 L103.95,435.09 L104.30,435.40 L104.65,435.21 L105.00,434.80 L105.35,434.62 L105.70,434.52 L106.05,434.46 L106.40,435.06 L106.75,434.85 L107.10,434.92 L107.45,435.63 L107.80,436.22 L108.15,436.66 L108.50,436.16 L108.85,436.39 L109.20,436.72 L109.55,436.39 L109.90,436.48 L110.25,436.86 L110.60,437.04 L110.95,436.77 L111.30,436.98 L111.65,437.03 L112.00,436.58 L112.35,436.56 L112.70,436.70 L113.05,436.64 L113.40,437.10 L113.75,437.02 L114.10,436.94 L114.45,437.14 L114.80,437.37 L115.15,436.67 L115.50,436.60 L115.85,436.89 L116.20,436.65 L116.55,436.25 L116.90,436.84 L117.25,437.23 L117.60,437.35 L117.95,436.77 L118.30,436.93 L118.65,436.38 L119.00,435.95 L119.35,435.69 L119.70,435.74 L120.05,434.79 L120.40,434.14 L120.75,433.78 L121.10,433.61 L121.45,432.77 L121.80,432.18 L122.15,431.29 L122.50,430.66 L122.85,429.63 L123.20,429.30 L123.55,428.61 L123.90,427.26 L124.25,426.33 L124.60,426.30 L124.95,425.72 L125.30,426.05 L125.65,425.76 L126.00,426.01 L126.35,426.82 L126.70,427.88 L127.05,429.23 L127.40,429.58 L127.75,431.16 L128.10,431.87 L128.45,432.77 L128.80,434.47 L129.15,436.83 L129.50,438.39 L129.85,440.66 L130.20,442.28 L130.55,443.52 L130.90,444.40 L131.25,445.00 L131.60,445.41 L131.95,445.67 L132.30,445.85 L132.65,445.97 L133.00,446.05 L133.00,446.90 Z" fill="#c3c3c3"/>
<path d="M64.40,386.30 L64.40,439.20 L64.75,440.44 L65.10,441.46 L65.45,442.29 L65.80,442.98 L66.15,443.55 L66.50,444.02 L66.85,444.41 L67.20,444.72 L67.55,444.98 L67.90,445.20 L68.25,445.38 L68.60,445.52 L68.95,445.64 L69.30,445.74 L69.65,445.82 L70.00,445.89 L70.35,445.94 L70.70,445.99 L71.05,446.03 L71.40,446.06 L71.75,446.08 L72.10,446.10 L72.45,446.12 L72.80,446.13 L73.15,446.15 L73.50,446.16 L73.85,446.16 L74.20,446.17 L74.55,446.18 L74.90,446.18 L75.25,446.18 L75.60,446.19 L75.95,446.19 L76.30,446.19 L76.65,446.19 L77.00,446.19 L77.35,446.19 L77.70,446.20 L78.05,446.20 L78.40,446.20 L78.75,446.20 L79.10,446.20 L79.45,446.20 L79.80,446.20 L80.15,446.20 L80.50,446.20 L80.85,446.20 L81.20,446.20 L81.55,446.20 L81.90,446.20 L82.25,446.20 L82.60,446.20 L82.95,446.20 L83.30,446.20 L83.65,446.20 L84.00,446.20 L84.35,446.20 L84.70,446.20 L85.05,446.20 L85.40,446.20 L85.75,446.20 L86.10,446.20 L86.45,446.20 L86.80,446.20 L87.15,446.20 L87.50,446.20 L87.85,446.20 L88.20,446.20 L88.55,446.20 L88.90,446.20 L89.25,446.20 L89.60,446.20 L89.95,446.20 L90.30,446.20 L90.65,446.19 L91.00,446.18 L91.35,446.14 L91.70,446.06 L92.05,445.90 L92.40,445.56 L92.75,444.92 L93.10,443.79 L93.45,441.91 L93.80,439.01 L94.15,434.83 L94.50,429.26 L94.85,422.43 L95.20,414.80 L95.55,407.23 L95.90,400.36 L96.25,396.87 L96.60,395.38 L96.95,398.21 L97.30,404.05 L97.65,411.28 L98.00,417.89 L98.35,423.30 L98.70,426.87 L99.05,429.17 L99.40,430.92 L99.75,431.12 L100.10,431.57 L100.45,432.33 L100.80,432.58 L101.15,432.85 L101.50,433.25 L101.85,433.60 L102.20,433.69 L102.55,433.71 L102.90,433.79 L103.25,434.06 L103.60,434.77 L103.95,435.09 L104.30,435.40 L104.65,435.21 L105.00,434.80 L105.35,434.62 L105.70,434.52 L106.05,434.46 L106.40,435.06 L106.75,434.85 L107.10,434.92 L107.45,435.63 L107.80,436.22 L108.15,436.66 L108.50,436.16 L108.85,436.39 L109.20,436.72 L109.55,436.39 L109.90,436.48 L110.25,436.86 L110.60,437.04 L110.95,436.77 L111.30,436.98 L111.65,437.03 L112.00,436.58 L112.35,436.56 L112.70,436.70 L113.05,436.64 L113.40,437.10 L113.75,437.02 L114.10,436.94 L114.45,437.14 L114.80,437.37 L115.15,436.67 L115.50,436.60 L115.85,436.89 L116.20,436.65 L116.55,436.25 L116.90,436.84 L117.25,437.23 L117.60,437.35 L117.95,436.77 L118.30,436.93 L118.65,436.38 L119.00,435.95 L119.35,435.69 L119.70,435.74 L120.05,434.79 L120.40,434.14 L120.75,433.78 L121.10,433.61 L121.45,432.77 L121.80,432.18 L122.15,431.29 L122.50,430.66 L122.85,429.63 L123.20,429.30 L123.55,428.61 L123.90,427.26 L124.25,426.33 L124.60,426.30 L124.95,425.72 L125.30,426.05 L125.65,425.76 L126.00,426.01 L126.35,426.82 L126.70,427.88 L127.05,429.23 L127.40,429.58 L127.75,431.16 L128.10,431.87 L128.45,432.77 L128.80,434.47 L129.15,436.83 L129.50,438.39 L129.85,440.66 L130.20,442.28 L130.55,443.52 L130.90,444.40 L131.25,445.00 L131.60,445.41 L131.95,445.67 L132.30,445.85 L132.65,445.97 L133.00,446.05 L133.35,446.10 L133.70,446.14 L134.05,446.16 L134.40,446.17 L134.75,446.18 L135.10,446.19 L135.45,446.19 L135.80,446.19 L136.15,446.19 L136.50,446.20 L136.85,446.20 L137.20,446.20 L137.55,446.20 L137.90,446.20 L138.25,446.20 L138.60,446.20 L138.95,446.20 L139.30,446.20 L139.65,446.20 L140.00,446.20 L140.35,446.20 L140.70,446.20 L141.05,446.20 L141.40,446.20 L141.75,446.20 L142.10,446.20 L142.45,446.20 L142.80,446.20 L143.15,446.20 L143.50,446.20 L143.85,446.20 L144.20,446.20 L144.55,446.20 L144.90,446.20 L145.25,446.20 L145.60,446.20 L145.95,446.20 L146.30,446.20 L146.65,446.20 L147.00,446.20 L147.35,446.20 L147.70,446.20 L148.05,446.20 L148.40,446.20 L148.75,446.20 L149.10,446.20 L149.45,446.20 L149.80,446.20 L150.15,446.20 L150.50,446.20 L150.85,446.20 L151.20,446.20 L151.55,446.20 L151.90,446.20 L152.25,446.20 L152.60,446.20 L152.95,446.20 L153.30,446.20 L153.30,446.20 L153.30,415.60 L153.30,446.90" fill="none" stroke="#000" stroke-width="1.15" stroke-linejoin="round"/>
<line x1="64.4" y1="386.3" x2="64.4" y2="447.2" stroke="#000" stroke-width="1.3" />
<line x1="63.10000000000001" y1="446.9" x2="64.4" y2="446.9" stroke="#666" stroke-width="0.6" />
<text x="61.800000000000004" y="449.59999999999997" font-size="7.5" text-anchor="end" fill="#2a2a2a" color="#2a2a2a" textLength="3.13" lengthAdjust="spacingAndGlyphs" >0</text>
<line x1="63.10000000000001" y1="428.84" x2="64.4" y2="428.84" stroke="#666" stroke-width="0.6" />
<text x="61.800000000000004" y="431.53999999999996" font-size="7.5" text-anchor="end" fill="#2a2a2a" color="#2a2a2a" textLength="9.39" lengthAdjust="spacingAndGlyphs" >200</text>
<line x1="63.10000000000001" y1="410.78" x2="64.4" y2="410.78" stroke="#666" stroke-width="0.6" />
<text x="61.800000000000004" y="413.47999999999996" font-size="7.5" text-anchor="end" fill="#2a2a2a" color="#2a2a2a" textLength="9.39" lengthAdjust="spacingAndGlyphs" >400</text>
<line x1="63.10000000000001" y1="392.71999999999997" x2="64.4" y2="392.71999999999997" stroke="#666" stroke-width="0.6" />
<text x="61.800000000000004" y="395.41999999999996" font-size="7.5" text-anchor="end" fill="#2a2a2a" color="#2a2a2a" textLength="9.39" lengthAdjust="spacingAndGlyphs" >600</text>
<text x="64.4" y="457.2" font-size="7.0" text-anchor="middle" fill="#2a2a2a" color="#2a2a2a" textLength="3.1" lengthAdjust="spacingAndGlyphs" >0</text>
<text x="81.85845552297165" y="457.2" font-size="7.0" text-anchor="middle" fill="#2a2a2a" color="#2a2a2a" textLength="9.3" lengthAdjust="spacingAndGlyphs" >200</text>
<text x="99.3169110459433" y="457.2" font-size="7.0" text-anchor="middle" fill="#2a2a2a" color="#2a2a2a" textLength="9.3" lengthAdjust="spacingAndGlyphs" >400</text>
<text x="116.77536656891496" y="457.2" font-size="7.0" text-anchor="middle" fill="#2a2a2a" color="#2a2a2a" textLength="9.3" lengthAdjust="spacingAndGlyphs" >600</text>
<text x="134.2338220918866" y="457.2" font-size="7.0" text-anchor="middle" fill="#2a2a2a" color="#2a2a2a" textLength="9.3" lengthAdjust="spacingAndGlyphs" >800</text>
<text x="151.69227761485826" y="457.2" font-size="7.0" text-anchor="middle" fill="#2a2a2a" color="#2a2a2a" textLength="12.4" lengthAdjust="spacingAndGlyphs" >1000</text>
<text x="111" y="376.4" font-size="10" text-anchor="middle" textLength="63" lengthAdjust="spacingAndGlyphs"><tspan>control shRNA</tspan></text>
<text x="122.5" y="396.4" font-size="8.9" text-anchor="middle" fill="#111" color="#111" textLength="21" lengthAdjust="spacingAndGlyphs" >G1: 28</text>
<text x="122.5" y="407.7" font-size="8.9" text-anchor="middle" fill="#111" color="#111" textLength="16.5" lengthAdjust="spacingAndGlyphs" >S: 45</text>
<text x="122.5" y="419.0" font-size="8.9" text-anchor="middle" fill="#111" color="#111" textLength="30.4" lengthAdjust="spacingAndGlyphs" >G2/M: 27</text>
<polyline points="174.50,386.30 263.30,386.30 263.30,446.90" fill="none" stroke="#b0b0b0" stroke-width="0.9"/>
<path d="M203.55,446.90 L203.55,445.34 L203.90,444.87 L204.25,444.00 L204.60,442.52 L204.95,440.15 L205.30,436.65 L205.65,431.82 L206.00,425.68 L206.35,418.52 L206.70,411.05 L207.05,404.49 L207.40,398.96 L207.75,396.78 L208.10,398.04 L208.45,401.18 L208.80,406.72 L209.15,412.55 L209.50,418.86 L209.85,423.66 L210.20,427.44 L210.55,429.49 L210.90,431.44 L211.25,431.73 L211.60,432.91 L211.95,432.95 L212.30,433.79 L212.65,434.17 L213.00,433.87 L213.35,434.44 L213.70,434.86 L214.05,434.64 L214.40,434.87 L214.75,435.45 L215.10,434.85 L215.45,435.39 L215.80,435.92 L216.15,435.99 L216.50,435.76 L216.85,435.49 L217.20,436.02 L217.55,436.16 L217.90,436.62 L218.25,436.50 L218.60,436.08 L218.95,435.84 L219.30,435.50 L219.65,435.44 L220.00,435.29 L220.35,435.37 L220.70,435.70 L221.05,436.21 L221.40,436.09 L221.75,436.40 L222.10,436.86 L222.45,436.81 L222.80,436.31 L223.15,436.79 L223.50,436.63 L223.85,436.73 L224.20,436.67 L224.55,437.05 L224.90,436.41 L225.25,436.74 L225.60,436.60 L225.95,436.70 L226.30,437.22 L226.65,436.99 L227.00,437.29 L227.35,437.59 L227.70,437.82 L228.05,437.83 L228.40,437.89 L228.75,437.32 L229.10,437.03 L229.45,436.27 L229.80,435.73 L230.15,435.21 L230.50,435.58 L230.85,435.49 L231.20,435.50 L231.55,434.96 L231.90,434.34 L232.25,433.50 L232.60,432.78 L232.95,432.53 L233.30,431.92 L233.65,431.16 L234.00,430.98 L234.35,430.66 L234.70,429.89 L235.05,429.61 L235.40,428.73 L235.75,428.70 L236.10,428.94 L236.45,429.17 L236.80,429.50 L237.15,429.98 L237.50,430.26 L237.85,430.82 L238.20,431.71 L238.55,432.32 L238.90,433.63 L239.25,434.28 L239.60,435.26 L239.95,436.86 L240.30,438.92 L240.65,441.03 L241.00,442.48 L241.35,443.58 L241.70,444.35 L242.05,444.87 L242.40,445.20 L242.75,445.42 L243.10,445.56 L243.45,445.65 L243.80,445.70 L243.80,446.90 Z" fill="#c3c3c3"/>
<path d="M174.50,386.30 L174.50,438.80 L174.85,440.04 L175.20,441.06 L175.55,441.89 L175.90,442.58 L176.25,443.15 L176.60,443.62 L176.95,444.01 L177.30,444.32 L177.65,444.58 L178.00,444.80 L178.35,444.98 L178.70,445.12 L179.05,445.24 L179.40,445.34 L179.75,445.42 L180.10,445.49 L180.45,445.54 L180.80,445.59 L181.15,445.63 L181.50,445.66 L181.85,445.68 L182.20,445.70 L182.55,445.72 L182.90,445.73 L183.25,445.75 L183.60,445.76 L183.95,445.76 L184.30,445.77 L184.65,445.78 L185.00,445.78 L185.35,445.78 L185.70,445.79 L186.05,445.79 L186.40,445.79 L186.75,445.79 L187.10,445.79 L187.45,445.79 L187.80,445.80 L188.15,445.80 L188.50,445.80 L188.85,445.80 L189.20,445.80 L189.55,445.80 L189.90,445.80 L190.25,445.80 L190.60,445.80 L190.95,445.80 L191.30,445.80 L191.65,445.80 L192.00,445.80 L192.35,445.80 L192.70,445.80 L193.05,445.80 L193.40,445.80 L193.75,445.80 L194.10,445.80 L194.45,445.80 L194.80,445.80 L195.15,445.80 L195.50,445.80 L195.85,445.80 L196.20,445.80 L196.55,445.80 L196.90,445.80 L197.25,445.80 L197.60,445.80 L197.95,445.80 L198.30,445.80 L198.65,445.80 L199.00,445.80 L199.35,445.80 L199.70,445.80 L200.05,445.80 L200.40,445.80 L200.75,445.80 L201.10,445.80 L201.45,445.80 L201.80,445.79 L202.15,445.78 L202.50,445.76 L202.85,445.71 L203.20,445.59 L203.55,445.34 L203.90,444.87 L204.25,444.00 L204.60,442.52 L204.95,440.15 L205.30,436.65 L205.65,431.82 L206.00,425.68 L206.35,418.52 L206.70,411.05 L207.05,404.49 L207.40,398.96 L207.75,396.78 L208.10,398.04 L208.45,401.18 L208.80,406.72 L209.15,412.55 L209.50,418.86 L209.85,423.66 L210.20,427.44 L210.55,429.49 L210.90,431.44 L211.25,431.73 L211.60,432.91 L211.95,432.95 L212.30,433.79 L212.65,434.17 L213.00,433.87 L213.35,434.44 L213.70,434.86 L214.05,434.64 L214.40,434.87 L214.75,435.45 L215.10,434.85 L215.45,435.39 L215.80,435.92 L216.15,435.99 L216.50,435.76 L216.85,435.49 L217.20,436.02 L217.55,436.16 L217.90,436.62 L218.25,436.50 L218.60,436.08 L218.95,435.84 L219.30,435.50 L219.65,435.44 L220.00,435.29 L220.35,435.37 L220.70,435.70 L221.05,436.21 L221.40,436.09 L221.75,436.40 L222.10,436.86 L222.45,436.81 L222.80,436.31 L223.15,436.79 L223.50,436.63 L223.85,436.73 L224.20,436.67 L224.55,437.05 L224.90,436.41 L225.25,436.74 L225.60,436.60 L225.95,436.70 L226.30,437.22 L226.65,436.99 L227.00,437.29 L227.35,437.59 L227.70,437.82 L228.05,437.83 L228.40,437.89 L228.75,437.32 L229.10,437.03 L229.45,436.27 L229.80,435.73 L230.15,435.21 L230.50,435.58 L230.85,435.49 L231.20,435.50 L231.55,434.96 L231.90,434.34 L232.25,433.50 L232.60,432.78 L232.95,432.53 L233.30,431.92 L233.65,431.16 L234.00,430.98 L234.35,430.66 L234.70,429.89 L235.05,429.61 L235.40,428.73 L235.75,428.70 L236.10,428.94 L236.45,429.17 L236.80,429.50 L237.15,429.98 L237.50,430.26 L237.85,430.82 L238.20,431.71 L238.55,432.32 L238.90,433.63 L239.25,434.28 L239.60,435.26 L239.95,436.86 L240.30,438.92 L240.65,441.03 L241.00,442.48 L241.35,443.58 L241.70,444.35 L242.05,444.87 L242.40,445.20 L242.75,445.42 L243.10,445.56 L243.45,445.65 L243.80,445.70 L244.15,445.74 L244.50,445.76 L244.85,445.78 L245.20,445.79 L245.55,445.79 L245.90,445.79 L246.25,445.80 L246.60,445.80 L246.95,445.80 L247.30,445.80 L247.65,445.80 L248.00,445.80 L248.35,445.80 L248.70,445.80 L249.05,445.80 L249.40,445.80 L249.75,445.80 L250.10,445.80 L250.45,445.80 L250.80,445.80 L251.15,445.80 L251.50,445.80 L251.85,445.80 L252.20,445.80 L252.55,445.80 L252.90,445.80 L253.25,445.80 L253.60,445.80 L253.95,445.80 L254.30,445.80 L254.65,445.80 L255.00,445.80 L255.35,445.80 L255.70,445.80 L256.05,445.80 L256.40,445.80 L256.75,445.80 L257.10,445.80 L257.45,445.80 L257.80,445.80 L258.15,445.80 L258.50,445.80 L258.85,445.80 L259.20,445.80 L259.55,445.80 L259.90,445.80 L260.25,445.80 L260.60,445.80 L260.95,445.80 L261.30,445.80 L261.65,445.80 L262.00,445.80 L262.35,445.80 L262.70,445.80 L262.90,445.80 L262.90,418.60 L262.90,446.90" fill="none" stroke="#000" stroke-width="1.15" stroke-linejoin="round"/>
<line x1="174.5" y1="386.3" x2="174.5" y2="447.2" stroke="#000" stroke-width="1.3" />
<line x1="173.2" y1="446.9" x2="174.5" y2="446.9" stroke="#666" stroke-width="0.6" />
<text x="171.9" y="449.59999999999997" font-size="7.5" text-anchor="end" fill="#2a2a2a" color="#2a2a2a" textLength="3.13" lengthAdjust="spacingAndGlyphs" >0</text>
<line x1="173.2" y1="429.14" x2="174.5" y2="429.14" stroke="#666" stroke-width="0.6" />
<text x="171.9" y="431.84" font-size="7.5" text-anchor="end" fill="#2a2a2a" color="#2a2a2a" textLength="9.39" lengthAdjust="spacingAndGlyphs" >200</text>
<line x1="173.2" y1="411.38" x2="174.5" y2="411.38" stroke="#666" stroke-width="0.6" />
<text x="171.9" y="414.08" font-size="7.5" text-anchor="end" fill="#2a2a2a" color="#2a2a2a" textLength="9.39" lengthAdjust="spacingAndGlyphs" >400</text>
<line x1="173.2" y1="393.62" x2="174.5" y2="393.62" stroke="#666" stroke-width="0.6" />
<text x="171.9" y="396.32" font-size="7.5" text-anchor="end" fill="#2a2a2a" color="#2a2a2a" textLength="9.39" lengthAdjust="spacingAndGlyphs" >600</text>
<text x="174.5" y="457.2" font-size="7.0" text-anchor="middle" fill="#2a2a2a" color="#2a2a2a" textLength="3.1" lengthAdjust="spacingAndGlyphs" >0</text>
<text x="191.86070381231673" y="457.2" font-size="7.0" text-anchor="middle" fill="#2a2a2a" color="#2a2a2a" textLength="9.3" lengthAdjust="spacingAndGlyphs" >200</text>
<text x="209.22140762463343" y="457.2" font-size="7.0" text-anchor="middle" fill="#2a2a2a" color="#2a2a2a" textLength="9.3" lengthAdjust="spacingAndGlyphs" >400</text>
<text x="226.58211143695016" y="457.2" font-size="7.0" text-anchor="middle" fill="#2a2a2a" color="#2a2a2a" textLength="9.3" lengthAdjust="spacingAndGlyphs" >600</text>
<text x="243.94281524926686" y="457.2" font-size="7.0" text-anchor="middle" fill="#2a2a2a" color="#2a2a2a" textLength="9.3" lengthAdjust="spacingAndGlyphs" >800</text>
<text x="261.3035190615836" y="457.2" font-size="7.0" text-anchor="middle" fill="#2a2a2a" color="#2a2a2a" textLength="12.4" lengthAdjust="spacingAndGlyphs" >1000</text>
<text x="220.3" y="376.4" font-size="10" text-anchor="middle" textLength="60.3" lengthAdjust="spacingAndGlyphs"><tspan font-style="italic">CDK4</tspan><tspan> shRNA</tspan></text>
<text x="234.5" y="396.0" font-size="8.9" text-anchor="middle" fill="#111" color="#111" textLength="22" lengthAdjust="spacingAndGlyphs" >G1: 29</text>
<text x="234.5" y="407.3" font-size="8.9" text-anchor="middle" fill="#111" color="#111" textLength="16.8" lengthAdjust="spacingAndGlyphs" >S: 45</text>
<text x="234.5" y="418.6" font-size="8.9" text-anchor="middle" fill="#111" color="#111" textLength="30.4" lengthAdjust="spacingAndGlyphs" >G2/M: 26</text>
<polyline points="285.50,386.30 373.60,386.30 373.60,447.20" fill="none" stroke="#b0b0b0" stroke-width="0.9"/>
<path d="M315.25,447.20 L315.25,445.31 L315.60,444.40 L315.95,442.78 L316.30,440.13 L316.65,436.15 L317.00,430.67 L317.35,423.82 L317.70,416.18 L318.05,408.95 L318.40,403.04 L318.75,398.92 L319.10,398.63 L319.45,401.92 L319.80,406.90 L320.15,412.79 L320.50,418.67 L320.85,424.03 L321.20,428.42 L321.55,431.62 L321.90,433.48 L322.25,435.15 L322.60,436.30 L322.95,436.73 L323.30,437.53 L323.65,438.02 L324.00,437.64 L324.35,437.90 L324.70,438.09 L325.05,438.83 L325.40,438.93 L325.75,438.84 L326.10,439.41 L326.45,439.17 L326.80,439.00 L327.15,439.53 L327.50,439.28 L327.85,439.30 L328.20,439.08 L328.55,439.30 L328.90,439.07 L329.25,438.89 L329.60,439.55 L329.95,439.97 L330.30,439.60 L330.65,439.03 L331.00,439.41 L331.35,439.46 L331.70,439.35 L332.05,439.57 L332.40,439.68 L332.75,439.81 L333.10,439.85 L333.45,439.63 L333.80,439.80 L334.15,439.83 L334.50,439.42 L334.85,439.96 L335.20,439.74 L335.55,439.40 L335.90,439.63 L336.25,439.89 L336.60,439.44 L336.95,439.74 L337.30,440.01 L337.65,439.92 L338.00,439.57 L338.35,439.99 L338.70,440.03 L339.05,440.05 L339.40,439.51 L339.75,439.56 L340.10,439.14 L340.45,439.58 L340.80,439.70 L341.15,439.42 L341.50,438.94 L341.85,439.05 L342.20,439.33 L342.55,439.58 L342.90,439.24 L343.25,439.29 L343.60,438.54 L343.95,437.87 L344.30,437.99 L344.65,437.84 L345.00,437.01 L345.35,436.47 L345.70,435.79 L346.05,435.72 L346.40,435.82 L346.75,435.66 L347.10,434.97 L347.45,435.09 L347.80,435.14 L348.15,435.18 L348.50,435.33 L348.85,435.58 L349.20,435.36 L349.55,436.22 L349.90,437.18 L350.25,437.05 L350.60,437.29 L350.95,437.68 L351.30,438.96 L351.65,439.75 L352.00,441.83 L352.35,443.02 L352.70,444.02 L353.05,444.78 L353.40,445.30 L353.75,445.64 L354.10,445.85 L354.45,445.99 L354.80,446.07 L354.80,447.20 Z" fill="#c3c3c3"/>
<path d="M285.50,386.30 L285.50,439.20 L285.85,440.44 L286.20,441.46 L286.55,442.29 L286.90,442.98 L287.25,443.55 L287.60,444.02 L287.95,444.41 L288.30,444.72 L288.65,444.98 L289.00,445.20 L289.35,445.38 L289.70,445.52 L290.05,445.64 L290.40,445.74 L290.75,445.82 L291.10,445.89 L291.45,445.94 L291.80,445.99 L292.15,446.03 L292.50,446.06 L292.85,446.08 L293.20,446.10 L293.55,446.12 L293.90,446.13 L294.25,446.15 L294.60,446.16 L294.95,446.16 L295.30,446.17 L295.65,446.18 L296.00,446.18 L296.35,446.18 L296.70,446.19 L297.05,446.19 L297.40,446.19 L297.75,446.19 L298.10,446.19 L298.45,446.19 L298.80,446.20 L299.15,446.20 L299.50,446.20 L299.85,446.20 L300.20,446.20 L300.55,446.20 L300.90,446.20 L301.25,446.20 L301.60,446.20 L301.95,446.20 L302.30,446.20 L302.65,446.20 L303.00,446.20 L303.35,446.20 L303.70,446.20 L304.05,446.20 L304.40,446.20 L304.75,446.20 L305.10,446.20 L305.45,446.20 L305.80,446.20 L306.15,446.20 L306.50,446.20 L306.85,446.20 L307.20,446.20 L307.55,446.20 L307.90,446.20 L308.25,446.20 L308.60,446.20 L308.95,446.20 L309.30,446.20 L309.65,446.20 L310.00,446.20 L310.35,446.20 L310.70,446.20 L311.05,446.20 L311.40,446.20 L311.75,446.20 L312.10,446.20 L312.45,446.20 L312.80,446.20 L313.15,446.20 L313.50,446.19 L313.85,446.17 L314.20,446.13 L314.55,446.02 L314.90,445.79 L315.25,445.31 L315.60,444.40 L315.95,442.78 L316.30,440.13 L316.65,436.15 L317.00,430.67 L317.35,423.82 L317.70,416.18 L318.05,408.95 L318.40,403.04 L318.75,398.92 L319.10,398.63 L319.45,401.92 L319.80,406.90 L320.15,412.79 L320.50,418.67 L320.85,424.03 L321.20,428.42 L321.55,431.62 L321.90,433.48 L322.25,435.15 L322.60,436.30 L322.95,436.73 L323.30,437.53 L323.65,438.02 L324.00,437.64 L324.35,437.90 L324.70,438.09 L325.05,438.83 L325.40,438.93 L325.75,438.84 L326.10,439.41 L326.45,439.17 L326.80,439.00 L327.15,439.53 L327.50,439.28 L327.85,439.30 L328.20,439.08 L328.55,439.30 L328.90,439.07 L329.25,438.89 L329.60,439.55 L329.95,439.97 L330.30,439.60 L330.65,439.03 L331.00,439.41 L331.35,439.46 L331.70,439.35 L332.05,439.57 L332.40,439.68 L332.75,439.81 L333.10,439.85 L333.45,439.63 L333.80,439.80 L334.15,439.83 L334.50,439.42 L334.85,439.96 L335.20,439.74 L335.55,439.40 L335.90,439.63 L336.25,439.89 L336.60,439.44 L336.95,439.74 L337.30,440.01 L337.65,439.92 L338.00,439.57 L338.35,439.99 L338.70,440.03 L339.05,440.05 L339.40,439.51 L339.75,439.56 L340.10,439.14 L340.45,439.58 L340.80,439.70 L341.15,439.42 L341.50,438.94 L341.85,439.05 L342.20,439.33 L342.55,439.58 L342.90,439.24 L343.25,439.29 L343.60,438.54 L343.95,437.87 L344.30,437.99 L344.65,437.84 L345.00,437.01 L345.35,436.47 L345.70,435.79 L346.05,435.72 L346.40,435.82 L346.75,435.66 L347.10,434.97 L347.45,435.09 L347.80,435.14 L348.15,435.18 L348.50,435.33 L348.85,435.58 L349.20,435.36 L349.55,436.22 L349.90,437.18 L350.25,437.05 L350.60,437.29 L350.95,437.68 L351.30,438.96 L351.65,439.75 L352.00,441.83 L352.35,443.02 L352.70,444.02 L353.05,444.78 L353.40,445.30 L353.75,445.64 L354.10,445.85 L354.45,445.99 L354.80,446.07 L355.15,446.12 L355.50,446.15 L355.85,446.17 L356.20,446.18 L356.55,446.19 L356.90,446.19 L357.25,446.20 L357.60,446.20 L357.95,446.20 L358.30,446.20 L358.65,446.20 L359.00,446.20 L359.35,446.20 L359.70,446.20 L360.05,446.20 L360.40,446.20 L360.75,446.20 L361.10,446.20 L361.45,446.20 L361.80,446.20 L362.15,446.20 L362.50,446.20 L362.85,446.20 L363.20,446.20 L363.55,446.20 L363.90,446.20 L364.25,446.20 L364.60,446.20 L364.95,446.20 L365.30,446.20 L365.65,446.20 L366.00,446.20 L366.35,446.20 L366.70,446.20 L367.05,446.20 L367.40,446.20 L367.75,446.20 L368.10,446.20 L368.45,446.20 L368.80,446.20 L369.15,446.20 L369.50,446.20 L369.85,446.20 L370.20,446.20 L370.55,446.20 L370.90,446.20 L371.25,446.20 L371.60,446.20 L371.95,446.20 L372.30,446.20 L372.65,446.20 L373.00,446.20 L373.20,446.20 L373.20,431.40 L373.20,447.20" fill="none" stroke="#000" stroke-width="1.15" stroke-linejoin="round"/>
<line x1="285.5" y1="386.3" x2="285.5" y2="447.5" stroke="#000" stroke-width="1.3" />
<line x1="284.2" y1="447.2" x2="285.5" y2="447.2" stroke="#666" stroke-width="0.6" />
<text x="282.9" y="449.9" font-size="7.5" text-anchor="end" fill="#2a2a2a" color="#2a2a2a" textLength="3.13" lengthAdjust="spacingAndGlyphs" >0</text>
<line x1="284.2" y1="434.38" x2="285.5" y2="434.38" stroke="#666" stroke-width="0.6" />
<text x="282.9" y="437.08" font-size="7.5" text-anchor="end" fill="#2a2a2a" color="#2a2a2a" textLength="9.39" lengthAdjust="spacingAndGlyphs" >200</text>
<line x1="284.2" y1="421.56" x2="285.5" y2="421.56" stroke="#666" stroke-width="0.6" />
<text x="282.9" y="424.26" font-size="7.5" text-anchor="end" fill="#2a2a2a" color="#2a2a2a" textLength="9.39" lengthAdjust="spacingAndGlyphs" >400</text>
<line x1="284.2" y1="408.74" x2="285.5" y2="408.74" stroke="#666" stroke-width="0.6" />
<text x="282.9" y="411.44" font-size="7.5" text-anchor="end" fill="#2a2a2a" color="#2a2a2a" textLength="9.39" lengthAdjust="spacingAndGlyphs" >600</text>
<line x1="284.2" y1="395.91999999999996" x2="285.5" y2="395.91999999999996" stroke="#666" stroke-width="0.6" />
<text x="282.9" y="398.61999999999995" font-size="7.5" text-anchor="end" fill="#2a2a2a" color="#2a2a2a" textLength="9.39" lengthAdjust="spacingAndGlyphs" >800</text>
<text x="285.5" y="457.2" font-size="7.0" text-anchor="middle" fill="#2a2a2a" color="#2a2a2a" textLength="3.1" lengthAdjust="spacingAndGlyphs" >0</text>
<text x="302.7238514173998" y="457.2" font-size="7.0" text-anchor="middle" fill="#2a2a2a" color="#2a2a2a" textLength="9.3" lengthAdjust="spacingAndGlyphs" >200</text>
<text x="319.9477028347996" y="457.2" font-size="7.0" text-anchor="middle" fill="#2a2a2a" color="#2a2a2a" textLength="9.3" lengthAdjust="spacingAndGlyphs" >400</text>
<text x="337.1715542521994" y="457.2" font-size="7.0" text-anchor="middle" fill="#2a2a2a" color="#2a2a2a" textLength="9.3" lengthAdjust="spacingAndGlyphs" >600</text>
<text x="354.3954056695992" y="457.2" font-size="7.0" text-anchor="middle" fill="#2a2a2a" color="#2a2a2a" textLength="9.3" lengthAdjust="spacingAndGlyphs" >800</text>
<text x="371.619257086999" y="457.2" font-size="7.0" text-anchor="middle" fill="#2a2a2a" color="#2a2a2a" textLength="12.4" lengthAdjust="spacingAndGlyphs" >1000</text>
<text x="330.3" y="376.4" font-size="10" text-anchor="middle" textLength="60.3" lengthAdjust="spacingAndGlyphs"><tspan font-style="italic">CDK6</tspan><tspan> shRNA</tspan></text>
<text x="345" y="396.0" font-size="8.9" text-anchor="middle" fill="#111" color="#111" textLength="22.6" lengthAdjust="spacingAndGlyphs" >G1: 38</text>
<text x="345" y="407.3" font-size="8.9" text-anchor="middle" fill="#111" color="#111" textLength="16.6" lengthAdjust="spacingAndGlyphs" >S: 42</text>
<text x="345" y="418.6" font-size="8.9" text-anchor="middle" fill="#111" color="#111" textLength="30.3" lengthAdjust="spacingAndGlyphs" >G2/M: 20</text>
<polyline points="393.10,386.30 482.20,386.30 482.20,447.60" fill="none" stroke="#b0b0b0" stroke-width="0.9"/>
<path d="M425.65,447.60 L425.65,445.09 L426.00,443.62 L426.35,441.14 L426.70,437.30 L427.05,431.86 L427.40,424.86 L427.75,416.78 L428.10,408.53 L428.45,401.38 L428.80,396.60 L429.15,395.16 L429.50,397.15 L429.85,401.68 L430.20,408.61 L430.55,415.79 L430.90,422.52 L431.25,428.89 L431.60,434.09 L431.95,437.65 L432.30,440.26 L432.65,441.45 L433.00,442.70 L433.35,443.19 L433.70,443.29 L434.05,443.56 L434.40,443.35 L434.75,443.53 L435.10,443.82 L435.45,443.92 L435.80,444.24 L436.15,444.22 L436.50,444.32 L436.85,443.98 L437.20,443.79 L437.55,443.87 L437.90,444.25 L438.25,444.36 L438.60,444.46 L438.95,444.55 L439.30,444.60 L439.65,444.22 L440.00,444.43 L440.35,444.64 L440.70,444.21 L441.05,444.15 L441.40,443.83 L441.75,444.00 L442.10,443.79 L442.45,443.80 L442.80,443.72 L443.15,443.70 L443.50,443.85 L443.85,444.22 L444.20,444.40 L444.55,444.09 L444.90,443.85 L445.25,443.68 L445.60,443.94 L445.95,443.91 L446.30,443.80 L446.65,443.82 L447.00,443.73 L447.35,443.85 L447.70,443.85 L448.05,443.83 L448.40,444.09 L448.75,443.85 L449.10,443.65 L449.45,444.10 L449.80,443.81 L450.15,443.62 L450.50,443.69 L450.85,444.14 L451.20,443.89 L451.55,444.23 L451.90,443.91 L452.25,443.88 L452.60,444.25 L452.95,444.44 L453.30,444.26 L453.65,444.17 L454.00,443.98 L454.35,443.71 L454.70,443.97 L455.05,444.27 L455.40,443.85 L455.75,444.13 L456.10,443.72 L456.45,443.89 L456.80,443.51 L457.15,443.22 L457.50,442.92 L457.85,442.88 L458.20,442.61 L458.55,442.84 L458.90,442.67 L459.25,442.77 L459.60,442.48 L459.95,442.38 L460.30,442.54 L460.65,442.67 L461.00,443.16 L461.35,443.58 L461.70,443.61 L462.05,443.83 L462.40,443.87 L462.75,444.21 L463.10,444.74 L463.45,445.12 L463.80,445.45 L464.15,445.74 L464.50,445.96 L464.85,446.14 L465.20,446.27 L465.55,446.37 L465.90,446.44 L465.90,447.60 Z" fill="#c3c3c3"/>
<path d="M393.10,386.30 L393.10,439.60 L393.45,440.84 L393.80,441.86 L394.15,442.69 L394.50,443.38 L394.85,443.95 L395.20,444.42 L395.55,444.81 L395.90,445.12 L396.25,445.38 L396.60,445.60 L396.95,445.78 L397.30,445.92 L397.65,446.04 L398.00,446.14 L398.35,446.22 L398.70,446.29 L399.05,446.34 L399.40,446.39 L399.75,446.43 L400.10,446.46 L400.45,446.48 L400.80,446.50 L401.15,446.52 L401.50,446.53 L401.85,446.55 L402.20,446.56 L402.55,446.56 L402.90,446.57 L403.25,446.58 L403.60,446.58 L403.95,446.58 L404.30,446.59 L404.65,446.59 L405.00,446.59 L405.35,446.59 L405.70,446.59 L406.05,446.59 L406.40,446.60 L406.75,446.60 L407.10,446.60 L407.45,446.60 L407.80,446.60 L408.15,446.60 L408.50,446.60 L408.85,446.60 L409.20,446.60 L409.55,446.60 L409.90,446.60 L410.25,446.60 L410.60,446.60 L410.95,446.60 L411.30,446.60 L411.65,446.60 L412.00,446.60 L412.35,446.60 L412.70,446.60 L413.05,446.60 L413.40,446.60 L413.75,446.60 L414.10,446.60 L414.45,446.60 L414.80,446.60 L415.15,446.60 L415.50,446.60 L415.85,446.60 L416.20,446.60 L416.55,446.60 L416.90,446.60 L417.25,446.60 L417.60,446.60 L417.95,446.60 L418.30,446.60 L418.65,446.60 L419.00,446.60 L419.35,446.60 L419.70,446.60 L420.05,446.60 L420.40,446.60 L420.75,446.60 L421.10,446.60 L421.45,446.60 L421.80,446.60 L422.15,446.60 L422.50,446.60 L422.85,446.60 L423.20,446.60 L423.55,446.59 L423.90,446.58 L424.25,446.55 L424.60,446.47 L424.95,446.28 L425.30,445.88 L425.65,445.09 L426.00,443.62 L426.35,441.14 L426.70,437.30 L427.05,431.86 L427.40,424.86 L427.75,416.78 L428.10,408.53 L428.45,401.38 L428.80,396.60 L429.15,395.16 L429.50,397.15 L429.85,401.68 L430.20,408.61 L430.55,415.79 L430.90,422.52 L431.25,428.89 L431.60,434.09 L431.95,437.65 L432.30,440.26 L432.65,441.45 L433.00,442.70 L433.35,443.19 L433.70,443.29 L434.05,443.56 L434.40,443.35 L434.75,443.53 L435.10,443.82 L435.45,443.92 L435.80,444.24 L436.15,444.22 L436.50,444.32 L436.85,443.98 L437.20,443.79 L437.55,443.87 L437.90,444.25 L438.25,444.36 L438.60,444.46 L438.95,444.55 L439.30,444.60 L439.65,444.22 L440.00,444.43 L440.35,444.64 L440.70,444.21 L441.05,444.15 L441.40,443.83 L441.75,444.00 L442.10,443.79 L442.45,443.80 L442.80,443.72 L443.15,443.70 L443.50,443.85 L443.85,444.22 L444.20,444.40 L444.55,444.09 L444.90,443.85 L445.25,443.68 L445.60,443.94 L445.95,443.91 L446.30,443.80 L446.65,443.82 L447.00,443.73 L447.35,443.85 L447.70,443.85 L448.05,443.83 L448.40,444.09 L448.75,443.85 L449.10,443.65 L449.45,444.10 L449.80,443.81 L450.15,443.62 L450.50,443.69 L450.85,444.14 L451.20,443.89 L451.55,444.23 L451.90,443.91 L452.25,443.88 L452.60,444.25 L452.95,444.44 L453.30,444.26 L453.65,444.17 L454.00,443.98 L454.35,443.71 L454.70,443.97 L455.05,444.27 L455.40,443.85 L455.75,444.13 L456.10,443.72 L456.45,443.89 L456.80,443.51 L457.15,443.22 L457.50,442.92 L457.85,442.88 L458.20,442.61 L458.55,442.84 L458.90,442.67 L459.25,442.77 L459.60,442.48 L459.95,442.38 L460.30,442.54 L460.65,442.67 L461.00,443.16 L461.35,443.58 L461.70,443.61 L462.05,443.83 L462.40,443.87 L462.75,444.21 L463.10,444.74 L463.45,445.12 L463.80,445.45 L464.15,445.74 L464.50,445.96 L464.85,446.14 L465.20,446.27 L465.55,446.37 L465.90,446.44 L466.25,446.49 L466.60,446.52 L466.95,446.55 L467.30,446.57 L467.65,446.58 L468.00,446.59 L468.35,446.59 L468.70,446.59 L469.05,446.60 L469.40,446.60 L469.75,446.60 L470.10,446.60 L470.45,446.60 L470.80,446.60 L471.15,446.60 L471.50,446.60 L471.85,446.60 L472.20,446.60 L472.55,446.60 L472.90,446.60 L473.25,446.60 L473.60,446.60 L473.95,446.60 L474.30,446.60 L474.65,446.60 L475.00,446.60 L475.35,446.60 L475.70,446.60 L476.05,446.60 L476.40,446.60 L476.75,446.60 L477.10,446.60 L477.45,446.60 L477.80,446.60 L478.15,446.60 L478.50,446.60 L478.85,446.60 L479.20,446.60 L479.55,446.60 L479.90,446.60 L480.25,446.60 L480.60,446.60 L480.95,446.60 L481.30,446.60 L481.65,446.60 L481.80,446.60 L481.80,441.50 L481.80,447.60" fill="none" stroke="#000" stroke-width="1.15" stroke-linejoin="round"/>
<line x1="393.1" y1="386.3" x2="393.1" y2="447.90000000000003" stroke="#000" stroke-width="1.3" />
<line x1="391.8" y1="447.6" x2="393.1" y2="447.6" stroke="#666" stroke-width="0.6" />
<text x="390.5" y="450.3" font-size="7.5" text-anchor="end" fill="#2a2a2a" color="#2a2a2a" textLength="3.13" lengthAdjust="spacingAndGlyphs" >0</text>
<line x1="391.8" y1="432.36" x2="393.1" y2="432.36" stroke="#666" stroke-width="0.6" />
<text x="390.5" y="435.06" font-size="7.5" text-anchor="end" fill="#2a2a2a" color="#2a2a2a" textLength="9.39" lengthAdjust="spacingAndGlyphs" >300</text>
<line x1="391.8" y1="417.12" x2="393.1" y2="417.12" stroke="#666" stroke-width="0.6" />
<text x="390.5" y="419.82" font-size="7.5" text-anchor="end" fill="#2a2a2a" color="#2a2a2a" textLength="9.39" lengthAdjust="spacingAndGlyphs" >600</text>
<line x1="391.8" y1="401.88" x2="393.1" y2="401.88" stroke="#666" stroke-width="0.6" />
<text x="390.5" y="404.58" font-size="7.5" text-anchor="end" fill="#2a2a2a" color="#2a2a2a" textLength="9.39" lengthAdjust="spacingAndGlyphs" >900</text>
<line x1="391.8" y1="386.64000000000004" x2="393.1" y2="386.64000000000004" stroke="#666" stroke-width="0.6" />
<text x="390.5" y="389.34000000000003" font-size="7.5" text-anchor="end" fill="#2a2a2a" color="#2a2a2a" textLength="12.52" lengthAdjust="spacingAndGlyphs" >1200</text>
<text x="393.1" y="457.2" font-size="7.0" text-anchor="middle" fill="#2a2a2a" color="#2a2a2a" textLength="3.1" lengthAdjust="spacingAndGlyphs" >0</text>
<text x="410.5193548387097" y="457.2" font-size="7.0" text-anchor="middle" fill="#2a2a2a" color="#2a2a2a" textLength="9.3" lengthAdjust="spacingAndGlyphs" >200</text>
<text x="427.93870967741935" y="457.2" font-size="7.0" text-anchor="middle" fill="#2a2a2a" color="#2a2a2a" textLength="9.3" lengthAdjust="spacingAndGlyphs" >400</text>
<text x="445.35806451612905" y="457.2" font-size="7.0" text-anchor="middle" fill="#2a2a2a" color="#2a2a2a" textLength="9.3" lengthAdjust="spacingAndGlyphs" >600</text>
<text x="462.7774193548387" y="457.2" font-size="7.0" text-anchor="middle" fill="#2a2a2a" color="#2a2a2a" textLength="9.3" lengthAdjust="spacingAndGlyphs" >800</text>
<text x="480.1967741935484" y="457.2" font-size="7.0" text-anchor="middle" fill="#2a2a2a" color="#2a2a2a" textLength="12.4" lengthAdjust="spacingAndGlyphs" >1000</text>
<text x="438.4" y="376.4" font-size="10" text-anchor="middle" textLength="92" lengthAdjust="spacingAndGlyphs"><tspan font-style="italic">CDK4</tspan><tspan>+</tspan><tspan font-style="italic">CDK6</tspan><tspan> shRNA</tspan></text>
<text x="454.5" y="396.0" font-size="8.9" text-anchor="middle" fill="#111" color="#111" textLength="22.9" lengthAdjust="spacingAndGlyphs" >G1: 70</text>
<text x="454.5" y="407.3" font-size="8.9" text-anchor="middle" fill="#111" color="#111" textLength="16.8" lengthAdjust="spacingAndGlyphs" >S: 19</text>
<text x="454.5" y="418.6" font-size="8.9" text-anchor="middle" fill="#111" color="#111" textLength="30.0" lengthAdjust="spacingAndGlyphs" >G2/M: 11</text>
<polyline points="68.50,518.20 156.80,518.20 156.80,578.60" fill="none" stroke="#b0b0b0" stroke-width="0.9"/>
<path d="M123.10,578.60 L123.10,575.68 L123.45,575.46 L123.80,575.24 L124.15,574.94 L124.50,574.63 L124.85,574.05 L125.20,573.34 L125.55,572.33 L125.90,571.12 L126.25,569.55 L126.60,567.70 L126.95,565.47 L127.30,562.96 L127.65,560.03 L128.00,556.75 L128.35,553.29 L128.70,549.54 L129.05,545.68 L129.40,541.84 L129.75,538.14 L130.10,534.75 L130.45,531.81 L130.80,529.46 L131.15,527.80 L131.50,526.92 L131.85,526.86 L132.20,527.64 L132.55,529.20 L132.90,531.48 L133.25,534.36 L133.60,537.72 L133.95,541.41 L134.30,545.28 L134.65,549.18 L135.00,553.00 L135.35,556.63 L135.70,559.98 L136.05,563.00 L136.40,565.65 L136.75,567.94 L137.10,569.86 L137.45,571.44 L137.80,572.72 L138.15,573.73 L138.50,574.51 L138.85,575.11 L139.20,575.55 L139.55,575.87 L139.90,576.11 L140.25,576.27 L140.25,578.60 Z" fill="#c3c3c3"/>
<path d="M68.50,518.20 L68.50,569.60 L68.85,570.84 L69.20,571.86 L69.55,572.69 L69.90,573.38 L70.25,573.95 L70.60,574.42 L70.95,574.81 L71.30,575.12 L71.65,575.38 L72.00,575.60 L72.35,575.78 L72.70,575.92 L73.05,576.04 L73.40,576.14 L73.75,576.22 L74.10,576.29 L74.45,576.34 L74.80,576.39 L75.15,576.43 L75.50,576.46 L75.85,576.48 L76.20,576.50 L76.55,576.52 L76.90,576.53 L77.25,576.55 L77.60,576.56 L77.95,576.56 L78.30,576.57 L78.65,576.58 L79.00,576.58 L79.35,576.58 L79.70,576.59 L80.05,576.59 L80.40,576.59 L80.75,576.59 L81.10,576.59 L81.45,576.59 L81.80,576.60 L82.15,576.60 L82.50,576.60 L82.85,576.60 L83.20,576.60 L83.55,576.60 L83.90,576.60 L84.25,576.60 L84.60,576.60 L84.95,576.60 L85.30,576.60 L85.65,576.60 L86.00,576.60 L86.35,576.60 L86.70,576.60 L87.05,576.60 L87.40,576.60 L87.75,576.60 L88.10,576.60 L88.45,576.60 L88.80,576.60 L89.15,576.60 L89.50,576.60 L89.85,576.60 L90.20,576.60 L90.55,576.60 L90.90,576.60 L91.25,576.60 L91.60,576.60 L91.95,576.60 L92.30,576.60 L92.65,576.60 L93.00,576.60 L93.35,576.60 L93.70,576.60 L94.05,576.60 L94.40,576.60 L94.75,576.60 L95.10,576.60 L95.45,576.60 L95.80,576.60 L96.15,576.60 L96.50,576.59 L96.85,576.59 L97.20,576.59 L97.55,576.58 L97.90,576.57 L98.25,576.56 L98.60,576.55 L98.95,576.51 L99.30,576.44 L99.65,576.28 L100.00,575.96 L100.35,575.40 L100.70,574.65 L101.05,573.97 L101.40,573.58 L101.75,573.70 L102.10,574.11 L102.45,574.63 L102.80,575.24 L103.15,575.67 L103.50,575.75 L103.85,575.83 L104.20,575.89 L104.55,575.95 L104.90,575.94 L105.25,575.89 L105.60,575.92 L105.95,575.95 L106.30,576.03 L106.65,575.95 L107.00,576.03 L107.35,576.02 L107.70,575.95 L108.05,576.03 L108.40,575.98 L108.75,575.91 L109.10,575.91 L109.45,575.89 L109.80,575.99 L110.15,576.00 L110.50,576.06 L110.85,575.98 L111.20,576.02 L111.55,576.02 L111.90,575.93 L112.25,575.89 L112.60,575.85 L112.95,575.90 L113.30,575.93 L113.65,575.91 L114.00,575.94 L114.35,575.99 L114.70,576.01 L115.05,576.07 L115.40,576.07 L115.75,575.97 L116.10,575.90 L116.45,575.91 L116.80,575.94 L117.15,575.98 L117.50,576.06 L117.85,576.08 L118.20,576.01 L118.55,575.94 L118.90,575.98 L119.25,575.94 L119.60,575.91 L119.95,575.90 L120.30,575.90 L120.65,575.88 L121.00,575.93 L121.35,575.90 L121.70,575.94 L122.05,575.91 L122.40,575.82 L122.75,575.73 L123.10,575.68 L123.45,575.46 L123.80,575.24 L124.15,574.94 L124.50,574.63 L124.85,574.05 L125.20,573.34 L125.55,572.33 L125.90,571.12 L126.25,569.55 L126.60,567.70 L126.95,565.47 L127.30,562.96 L127.65,560.03 L128.00,556.75 L128.35,553.29 L128.70,549.54 L129.05,545.68 L129.40,541.84 L129.75,538.14 L130.10,534.75 L130.45,531.81 L130.80,529.46 L131.15,527.80 L131.50,526.92 L131.85,526.86 L132.20,527.64 L132.55,529.20 L132.90,531.48 L133.25,534.36 L133.60,537.72 L133.95,541.41 L134.30,545.28 L134.65,549.18 L135.00,553.00 L135.35,556.63 L135.70,559.98 L136.05,563.00 L136.40,565.65 L136.75,567.94 L137.10,569.86 L137.45,571.44 L137.80,572.72 L138.15,573.73 L138.50,574.51 L138.85,575.11 L139.20,575.55 L139.55,575.87 L139.90,576.11 L140.25,576.27 L140.60,576.38 L140.95,576.46 L141.30,576.51 L141.65,576.54 L142.00,576.57 L142.35,576.58 L142.70,576.59 L143.05,576.59 L143.40,576.60 L143.75,576.60 L144.10,576.60 L144.45,576.60 L144.80,576.60 L145.15,576.60 L145.50,576.60 L145.85,576.60 L146.20,576.60 L146.55,576.60 L146.90,576.60 L147.25,576.60 L147.60,576.60 L147.95,576.60 L148.30,576.60 L148.65,576.60 L149.00,576.60 L149.35,576.60 L149.70,576.60 L150.05,576.60 L150.40,576.60 L150.75,576.60 L151.10,576.60 L151.45,576.60 L151.80,576.60 L152.15,576.60 L152.50,576.60 L152.85,576.60 L153.20,576.60 L153.55,576.60 L153.90,576.60 L154.25,576.60 L154.60,576.60 L154.95,576.60 L155.30,576.60 L155.65,576.60 L156.00,576.60 L156.35,576.60 L156.40,576.60 L156.40,523.80 L156.40,578.60" fill="none" stroke="#000" stroke-width="1.15" stroke-linejoin="round"/>
<line x1="68.5" y1="518.2" x2="68.5" y2="578.9" stroke="#000" stroke-width="1.3" />
<line x1="67.2" y1="578.6" x2="68.5" y2="578.6" stroke="#666" stroke-width="0.6" />
<text x="65.9" y="581.3000000000001" font-size="7.5" text-anchor="end" fill="#2a2a2a" color="#2a2a2a" textLength="3.13" lengthAdjust="spacingAndGlyphs" >0</text>
<line x1="67.2" y1="562.34" x2="68.5" y2="562.34" stroke="#666" stroke-width="0.6" />
<text x="65.9" y="565.0400000000001" font-size="7.5" text-anchor="end" fill="#2a2a2a" color="#2a2a2a" textLength="9.39" lengthAdjust="spacingAndGlyphs" >200</text>
<line x1="67.2" y1="546.08" x2="68.5" y2="546.08" stroke="#666" stroke-width="0.6" />
<text x="65.9" y="548.7800000000001" font-size="7.5" text-anchor="end" fill="#2a2a2a" color="#2a2a2a" textLength="9.39" lengthAdjust="spacingAndGlyphs" >400</text>
<line x1="67.2" y1="529.82" x2="68.5" y2="529.82" stroke="#666" stroke-width="0.6" />
<text x="65.9" y="532.5200000000001" font-size="7.5" text-anchor="end" fill="#2a2a2a" color="#2a2a2a" textLength="9.39" lengthAdjust="spacingAndGlyphs" >600</text>
<text x="68.5" y="588.2" font-size="7.0" text-anchor="middle" fill="#2a2a2a" color="#2a2a2a" textLength="3.1" lengthAdjust="spacingAndGlyphs" >0</text>
<text x="85.76295210166178" y="588.2" font-size="7.0" text-anchor="middle" fill="#2a2a2a" color="#2a2a2a" textLength="9.3" lengthAdjust="spacingAndGlyphs" >200</text>
<text x="103.02590420332356" y="588.2" font-size="7.0" text-anchor="middle" fill="#2a2a2a" color="#2a2a2a" textLength="9.3" lengthAdjust="spacingAndGlyphs" >400</text>
<text x="120.28885630498534" y="588.2" font-size="7.0" text-anchor="middle" fill="#2a2a2a" color="#2a2a2a" textLength="9.3" lengthAdjust="spacingAndGlyphs" >600</text>
<text x="137.55180840664713" y="588.2" font-size="7.0" text-anchor="middle" fill="#2a2a2a" color="#2a2a2a" textLength="9.3" lengthAdjust="spacingAndGlyphs" >800</text>
<text x="154.8147605083089" y="588.2" font-size="7.0" text-anchor="middle" fill="#2a2a2a" color="#2a2a2a" textLength="12.4" lengthAdjust="spacingAndGlyphs" >1000</text>
<text x="114" y="508.6" font-size="10" text-anchor="middle" textLength="64.7" lengthAdjust="spacingAndGlyphs"><tspan>control shRNA</tspan></text>
<text x="98.6" y="564.6" font-size="8.9" text-anchor="middle" fill="#111" color="#111" textLength="9.6" lengthAdjust="spacingAndGlyphs" >2N</text>
<text x="141.2" y="531.7" font-size="8.9" text-anchor="middle" fill="#111" color="#111" textLength="9.6" lengthAdjust="spacingAndGlyphs" >4N</text>
<polyline points="178.50,518.20 266.80,518.20 266.80,578.60" fill="none" stroke="#b0b0b0" stroke-width="0.9"/>
<path d="M232.05,578.60 L232.05,575.19 L232.40,574.90 L232.75,574.42 L233.10,573.93 L233.45,573.29 L233.80,572.62 L234.15,571.57 L234.50,570.49 L234.85,569.01 L235.20,567.21 L235.55,565.15 L235.90,562.82 L236.25,560.42 L236.60,557.55 L236.95,554.43 L237.30,551.11 L237.65,547.66 L238.00,544.16 L238.35,540.71 L238.70,537.41 L239.05,534.39 L239.40,531.73 L239.75,529.55 L240.10,527.93 L240.45,526.93 L240.80,526.59 L241.15,526.93 L241.50,527.94 L241.85,529.57 L242.20,531.76 L242.55,534.42 L242.90,537.46 L243.25,540.78 L243.60,544.25 L243.95,547.79 L244.30,551.28 L244.65,554.65 L245.00,557.83 L245.35,560.77 L245.70,563.43 L246.05,565.79 L246.40,567.84 L246.75,569.60 L247.10,571.09 L247.45,572.31 L247.80,573.31 L248.15,574.11 L248.50,574.74 L248.85,575.23 L249.20,575.61 L249.55,575.89 L249.90,576.10 L250.25,576.25 L250.25,578.60 Z" fill="#c3c3c3"/>
<path d="M178.50,518.20 L178.50,569.60 L178.85,570.84 L179.20,571.86 L179.55,572.69 L179.90,573.38 L180.25,573.95 L180.60,574.42 L180.95,574.81 L181.30,575.12 L181.65,575.38 L182.00,575.60 L182.35,575.78 L182.70,575.92 L183.05,576.04 L183.40,576.14 L183.75,576.22 L184.10,576.29 L184.45,576.34 L184.80,576.39 L185.15,576.43 L185.50,576.46 L185.85,576.48 L186.20,576.50 L186.55,576.52 L186.90,576.53 L187.25,576.55 L187.60,576.56 L187.95,576.56 L188.30,576.57 L188.65,576.58 L189.00,576.58 L189.35,576.58 L189.70,576.59 L190.05,576.59 L190.40,576.59 L190.75,576.59 L191.10,576.59 L191.45,576.59 L191.80,576.60 L192.15,576.60 L192.50,576.60 L192.85,576.60 L193.20,576.60 L193.55,576.60 L193.90,576.60 L194.25,576.60 L194.60,576.60 L194.95,576.60 L195.30,576.60 L195.65,576.60 L196.00,576.60 L196.35,576.60 L196.70,576.60 L197.05,576.60 L197.40,576.60 L197.75,576.60 L198.10,576.60 L198.45,576.60 L198.80,576.60 L199.15,576.60 L199.50,576.60 L199.85,576.60 L200.20,576.60 L200.55,576.60 L200.90,576.60 L201.25,576.60 L201.60,576.60 L201.95,576.60 L202.30,576.60 L202.65,576.60 L203.00,576.60 L203.35,576.60 L203.70,576.60 L204.05,576.60 L204.40,576.60 L204.75,576.60 L205.10,576.60 L205.45,576.60 L205.80,576.60 L206.15,576.59 L206.50,576.59 L206.85,576.59 L207.20,576.58 L207.55,576.58 L207.90,576.56 L208.25,576.55 L208.60,576.52 L208.95,576.45 L209.30,576.32 L209.65,576.05 L210.00,575.59 L210.35,574.91 L210.70,574.10 L211.05,573.33 L211.40,572.98 L211.75,573.15 L212.10,573.65 L212.45,574.20 L212.80,574.81 L213.15,575.29 L213.50,575.55 L213.85,575.58 L214.20,575.71 L214.55,575.75 L214.90,575.67 L215.25,575.67 L215.60,575.75 L215.95,575.76 L216.30,575.77 L216.65,575.85 L217.00,575.86 L217.35,575.88 L217.70,575.78 L218.05,575.82 L218.40,575.78 L218.75,575.68 L219.10,575.62 L219.45,575.70 L219.80,575.71 L220.15,575.77 L220.50,575.80 L220.85,575.80 L221.20,575.74 L221.55,575.66 L221.90,575.75 L222.25,575.87 L222.60,575.86 L222.95,575.94 L223.30,576.00 L223.65,575.88 L224.00,575.94 L224.35,575.85 L224.70,575.87 L225.05,575.75 L225.40,575.69 L225.75,575.82 L226.10,575.88 L226.45,575.76 L226.80,575.74 L227.15,575.78 L227.50,575.72 L227.85,575.67 L228.20,575.71 L228.55,575.74 L228.90,575.83 L229.25,575.84 L229.60,575.88 L229.95,575.79 L230.30,575.71 L230.65,575.73 L231.00,575.60 L231.35,575.57 L231.70,575.47 L232.05,575.19 L232.40,574.90 L232.75,574.42 L233.10,573.93 L233.45,573.29 L233.80,572.62 L234.15,571.57 L234.50,570.49 L234.85,569.01 L235.20,567.21 L235.55,565.15 L235.90,562.82 L236.25,560.42 L236.60,557.55 L236.95,554.43 L237.30,551.11 L237.65,547.66 L238.00,544.16 L238.35,540.71 L238.70,537.41 L239.05,534.39 L239.40,531.73 L239.75,529.55 L240.10,527.93 L240.45,526.93 L240.80,526.59 L241.15,526.93 L241.50,527.94 L241.85,529.57 L242.20,531.76 L242.55,534.42 L242.90,537.46 L243.25,540.78 L243.60,544.25 L243.95,547.79 L244.30,551.28 L244.65,554.65 L245.00,557.83 L245.35,560.77 L245.70,563.43 L246.05,565.79 L246.40,567.84 L246.75,569.60 L247.10,571.09 L247.45,572.31 L247.80,573.31 L248.15,574.11 L248.50,574.74 L248.85,575.23 L249.20,575.61 L249.55,575.89 L249.90,576.10 L250.25,576.25 L250.60,576.36 L250.95,576.44 L251.30,576.49 L251.65,576.53 L252.00,576.55 L252.35,576.57 L252.70,576.58 L253.05,576.59 L253.40,576.59 L253.75,576.60 L254.10,576.60 L254.45,576.60 L254.80,576.60 L255.15,576.60 L255.50,576.60 L255.85,576.60 L256.20,576.60 L256.55,576.60 L256.90,576.60 L257.25,576.60 L257.60,576.60 L257.95,576.60 L258.30,576.60 L258.65,576.60 L259.00,576.60 L259.35,576.60 L259.70,576.60 L260.05,576.60 L260.40,576.60 L260.75,576.60 L261.10,576.60 L261.45,576.60 L261.80,576.60 L262.15,576.60 L262.50,576.60 L262.85,576.60 L263.20,576.60 L263.55,576.60 L263.90,576.60 L264.25,576.60 L264.60,576.60 L264.95,576.60 L265.30,576.60 L265.65,576.60 L266.00,576.60 L266.35,576.60 L266.40,576.60 L266.40,523.90 L266.40,578.60" fill="none" stroke="#000" stroke-width="1.15" stroke-linejoin="round"/>
<line x1="178.5" y1="518.2" x2="178.5" y2="578.9" stroke="#000" stroke-width="1.3" />
<line x1="177.2" y1="578.6" x2="178.5" y2="578.6" stroke="#666" stroke-width="0.6" />
<text x="175.9" y="581.3000000000001" font-size="7.5" text-anchor="end" fill="#2a2a2a" color="#2a2a2a" textLength="3.13" lengthAdjust="spacingAndGlyphs" >0</text>
<line x1="177.2" y1="562.34" x2="178.5" y2="562.34" stroke="#666" stroke-width="0.6" />
<text x="175.9" y="565.0400000000001" font-size="7.5" text-anchor="end" fill="#2a2a2a" color="#2a2a2a" textLength="9.39" lengthAdjust="spacingAndGlyphs" >200</text>
<line x1="177.2" y1="546.08" x2="178.5" y2="546.08" stroke="#666" stroke-width="0.6" />
<text x="175.9" y="548.7800000000001" font-size="7.5" text-anchor="end" fill="#2a2a2a" color="#2a2a2a" textLength="9.39" lengthAdjust="spacingAndGlyphs" >400</text>
<line x1="177.2" y1="529.82" x2="178.5" y2="529.82" stroke="#666" stroke-width="0.6" />
<text x="175.9" y="532.5200000000001" font-size="7.5" text-anchor="end" fill="#2a2a2a" color="#2a2a2a" textLength="9.39" lengthAdjust="spacingAndGlyphs" >600</text>
<text x="178.5" y="588.2" font-size="7.0" text-anchor="middle" fill="#2a2a2a" color="#2a2a2a" textLength="3.1" lengthAdjust="spacingAndGlyphs" >0</text>
<text x="195.76295210166177" y="588.2" font-size="7.0" text-anchor="middle" fill="#2a2a2a" color="#2a2a2a" textLength="9.3" lengthAdjust="spacingAndGlyphs" >200</text>
<text x="213.02590420332356" y="588.2" font-size="7.0" text-anchor="middle" fill="#2a2a2a" color="#2a2a2a" textLength="9.3" lengthAdjust="spacingAndGlyphs" >400</text>
<text x="230.28885630498536" y="588.2" font-size="7.0" text-anchor="middle" fill="#2a2a2a" color="#2a2a2a" textLength="9.3" lengthAdjust="spacingAndGlyphs" >600</text>
<text x="247.55180840664713" y="588.2" font-size="7.0" text-anchor="middle" fill="#2a2a2a" color="#2a2a2a" textLength="9.3" lengthAdjust="spacingAndGlyphs" >800</text>
<text x="264.8147605083089" y="588.2" font-size="7.0" text-anchor="middle" fill="#2a2a2a" color="#2a2a2a" textLength="12.4" lengthAdjust="spacingAndGlyphs" >1000</text>
<text x="220.8" y="508.4" font-size="10" text-anchor="middle" textLength="60.5" lengthAdjust="spacingAndGlyphs"><tspan font-style="italic">CDK4</tspan><tspan> shRNA</tspan></text>
<text x="209.7" y="564.4" font-size="8.9" text-anchor="middle" fill="#111" color="#111" textLength="9.6" lengthAdjust="spacingAndGlyphs" >2N</text>
<text x="250.8" y="531.2" font-size="8.9" text-anchor="middle" fill="#111" color="#111" textLength="9.6" lengthAdjust="spacingAndGlyphs" >4N</text>
<polyline points="288.50,518.20 377.20,518.20 377.20,578.60" fill="none" stroke="#b0b0b0" stroke-width="0.9"/>
<path d="M319.30,578.60 L319.30,576.39 L319.65,576.20 L320.00,575.82 L320.35,575.07 L320.70,573.79 L321.05,571.86 L321.40,569.38 L321.75,566.73 L322.10,564.56 L322.45,563.49 L322.80,563.88 L323.15,565.02 L323.50,567.06 L323.85,569.07 L324.20,570.80 L324.55,571.89 L324.90,572.52 L325.25,573.14 L325.60,573.71 L325.95,573.71 L326.30,573.73 L326.65,573.58 L327.00,573.15 L327.35,573.07 L327.70,573.17 L328.05,573.16 L328.40,573.11 L328.75,573.60 L329.10,573.25 L329.45,573.10 L329.80,572.93 L330.15,572.88 L330.50,573.18 L330.85,573.39 L331.20,573.78 L331.55,573.62 L331.90,573.98 L332.25,574.23 L332.60,574.30 L332.95,574.38 L333.30,574.29 L333.65,574.47 L334.00,574.64 L334.35,574.64 L334.70,574.67 L335.05,574.48 L335.40,574.63 L335.75,574.03 L336.10,573.83 L336.45,574.07 L336.80,574.14 L337.15,574.11 L337.50,574.07 L337.85,574.23 L338.20,573.73 L338.55,573.24 L338.90,573.30 L339.25,573.29 L339.60,573.56 L339.95,573.68 L340.30,573.47 L340.65,573.29 L341.00,572.56 L341.35,572.44 L341.70,572.26 L342.05,571.13 L342.40,570.39 L342.75,569.83 L343.10,568.71 L343.45,567.88 L343.80,566.34 L344.15,564.30 L344.50,562.30 L344.85,560.30 L345.20,558.49 L345.55,556.31 L345.90,554.09 L346.25,551.17 L346.60,548.45 L346.95,545.49 L347.30,542.98 L347.65,540.57 L348.00,537.73 L348.35,535.05 L348.70,532.84 L349.05,531.04 L349.40,529.63 L349.75,528.71 L350.10,528.65 L350.45,528.68 L350.80,529.30 L351.15,530.59 L351.50,532.20 L351.85,533.91 L352.20,535.35 L352.55,537.71 L352.90,540.30 L353.25,543.06 L353.60,545.91 L353.95,548.79 L354.30,551.66 L354.65,554.45 L355.00,557.12 L355.35,559.64 L355.70,561.98 L356.05,564.12 L356.40,566.06 L356.75,567.78 L357.10,569.30 L357.45,570.63 L357.80,571.76 L358.15,572.72 L358.50,573.53 L358.85,574.20 L359.20,574.74 L359.55,575.18 L359.90,575.54 L359.90,578.60 Z" fill="#c3c3c3"/>
<path d="M288.50,518.20 L288.50,569.70 L288.85,570.94 L289.20,571.96 L289.55,572.79 L289.90,573.48 L290.25,574.05 L290.60,574.52 L290.95,574.91 L291.30,575.22 L291.65,575.48 L292.00,575.70 L292.35,575.88 L292.70,576.02 L293.05,576.14 L293.40,576.24 L293.75,576.32 L294.10,576.39 L294.45,576.44 L294.80,576.49 L295.15,576.53 L295.50,576.56 L295.85,576.58 L296.20,576.60 L296.55,576.62 L296.90,576.63 L297.25,576.65 L297.60,576.66 L297.95,576.66 L298.30,576.67 L298.65,576.68 L299.00,576.68 L299.35,576.68 L299.70,576.69 L300.05,576.69 L300.40,576.69 L300.75,576.69 L301.10,576.69 L301.45,576.69 L301.80,576.70 L302.15,576.70 L302.50,576.70 L302.85,576.70 L303.20,576.70 L303.55,576.70 L303.90,576.70 L304.25,576.70 L304.60,576.70 L304.95,576.70 L305.30,576.70 L305.65,576.70 L306.00,576.70 L306.35,576.70 L306.70,576.70 L307.05,576.70 L307.40,576.70 L307.75,576.70 L308.10,576.70 L308.45,576.70 L308.80,576.70 L309.15,576.70 L309.50,576.70 L309.85,576.70 L310.20,576.70 L310.55,576.70 L310.90,576.70 L311.25,576.70 L311.60,576.70 L311.95,576.70 L312.30,576.70 L312.65,576.70 L313.00,576.70 L313.35,576.70 L313.70,576.69 L314.05,576.69 L314.40,576.69 L314.75,576.69 L315.10,576.68 L315.45,576.68 L315.80,576.68 L316.15,576.67 L316.50,576.66 L316.85,576.65 L317.20,576.64 L317.55,576.62 L317.90,576.60 L318.25,576.58 L318.60,576.54 L318.95,576.49 L319.30,576.39 L319.65,576.20 L320.00,575.82 L320.35,575.07 L320.70,573.79 L321.05,571.86 L321.40,569.38 L321.75,566.73 L322.10,564.56 L322.45,563.49 L322.80,563.88 L323.15,565.02 L323.50,567.06 L323.85,569.07 L324.20,570.80 L324.55,571.89 L324.90,572.52 L325.25,573.14 L325.60,573.71 L325.95,573.71 L326.30,573.73 L326.65,573.58 L327.00,573.15 L327.35,573.07 L327.70,573.17 L328.05,573.16 L328.40,573.11 L328.75,573.60 L329.10,573.25 L329.45,573.10 L329.80,572.93 L330.15,572.88 L330.50,573.18 L330.85,573.39 L331.20,573.78 L331.55,573.62 L331.90,573.98 L332.25,574.23 L332.60,574.30 L332.95,574.38 L333.30,574.29 L333.65,574.47 L334.00,574.64 L334.35,574.64 L334.70,574.67 L335.05,574.48 L335.40,574.63 L335.75,574.03 L336.10,573.83 L336.45,574.07 L336.80,574.14 L337.15,574.11 L337.50,574.07 L337.85,574.23 L338.20,573.73 L338.55,573.24 L338.90,573.30 L339.25,573.29 L339.60,573.56 L339.95,573.68 L340.30,573.47 L340.65,573.29 L341.00,572.56 L341.35,572.44 L341.70,572.26 L342.05,571.13 L342.40,570.39 L342.75,569.83 L343.10,568.71 L343.45,567.88 L343.80,566.34 L344.15,564.30 L344.50,562.30 L344.85,560.30 L345.20,558.49 L345.55,556.31 L345.90,554.09 L346.25,551.17 L346.60,548.45 L346.95,545.49 L347.30,542.98 L347.65,540.57 L348.00,537.73 L348.35,535.05 L348.70,532.84 L349.05,531.04 L349.40,529.63 L349.75,528.71 L350.10,528.65 L350.45,528.68 L350.80,529.30 L351.15,530.59 L351.50,532.20 L351.85,533.91 L352.20,535.35 L352.55,537.71 L352.90,540.30 L353.25,543.06 L353.60,545.91 L353.95,548.79 L354.30,551.66 L354.65,554.45 L355.00,557.12 L355.35,559.64 L355.70,561.98 L356.05,564.12 L356.40,566.06 L356.75,567.78 L357.10,569.30 L357.45,570.63 L357.80,571.76 L358.15,572.72 L358.50,573.53 L358.85,574.20 L359.20,574.74 L359.55,575.18 L359.90,575.54 L360.25,575.82 L360.60,576.04 L360.95,576.21 L361.30,576.34 L361.65,576.43 L362.00,576.51 L362.35,576.56 L362.70,576.60 L363.05,576.63 L363.40,576.65 L363.75,576.67 L364.10,576.68 L364.45,576.68 L364.80,576.69 L365.15,576.69 L365.50,576.70 L365.85,576.70 L366.20,576.70 L366.55,576.70 L366.90,576.70 L367.25,576.70 L367.60,576.70 L367.95,576.70 L368.30,576.70 L368.65,576.70 L369.00,576.70 L369.35,576.70 L369.70,576.70 L370.05,576.70 L370.40,576.70 L370.75,576.70 L371.10,576.70 L371.45,576.70 L371.80,576.70 L372.15,576.70 L372.50,576.70 L372.85,576.70 L373.20,576.70 L373.55,576.70 L373.90,576.70 L374.25,576.70 L374.60,576.70 L374.95,576.70 L375.30,576.70 L375.65,576.70 L376.00,576.70 L376.35,576.70 L376.70,576.70 L376.80,576.70 L376.80,540.00 L376.80,578.60" fill="none" stroke="#000" stroke-width="1.15" stroke-linejoin="round"/>
<line x1="288.5" y1="518.2" x2="288.5" y2="578.9" stroke="#000" stroke-width="1.3" />
<line x1="287.2" y1="578.6" x2="288.5" y2="578.6" stroke="#666" stroke-width="0.6" />
<text x="285.9" y="581.3000000000001" font-size="7.5" text-anchor="end" fill="#2a2a2a" color="#2a2a2a" textLength="3.13" lengthAdjust="spacingAndGlyphs" >0</text>
<line x1="287.2" y1="559.6" x2="288.5" y2="559.6" stroke="#666" stroke-width="0.6" />
<text x="285.9" y="562.3000000000001" font-size="7.5" text-anchor="end" fill="#2a2a2a" color="#2a2a2a" textLength="9.39" lengthAdjust="spacingAndGlyphs" >200</text>
<line x1="287.2" y1="540.6" x2="288.5" y2="540.6" stroke="#666" stroke-width="0.6" />
<text x="285.9" y="543.3000000000001" font-size="7.5" text-anchor="end" fill="#2a2a2a" color="#2a2a2a" textLength="9.39" lengthAdjust="spacingAndGlyphs" >400</text>
<line x1="287.2" y1="521.6" x2="288.5" y2="521.6" stroke="#666" stroke-width="0.6" />
<text x="285.9" y="524.3000000000001" font-size="7.5" text-anchor="end" fill="#2a2a2a" color="#2a2a2a" textLength="9.39" lengthAdjust="spacingAndGlyphs" >600</text>
<text x="288.5" y="588.2" font-size="7.0" text-anchor="middle" fill="#2a2a2a" color="#2a2a2a" textLength="3.1" lengthAdjust="spacingAndGlyphs" >0</text>
<text x="305.8411534701857" y="588.2" font-size="7.0" text-anchor="middle" fill="#2a2a2a" color="#2a2a2a" textLength="9.3" lengthAdjust="spacingAndGlyphs" >200</text>
<text x="323.18230694037146" y="588.2" font-size="7.0" text-anchor="middle" fill="#2a2a2a" color="#2a2a2a" textLength="9.3" lengthAdjust="spacingAndGlyphs" >400</text>
<text x="340.52346041055716" y="588.2" font-size="7.0" text-anchor="middle" fill="#2a2a2a" color="#2a2a2a" textLength="9.3" lengthAdjust="spacingAndGlyphs" >600</text>
<text x="357.8646138807429" y="588.2" font-size="7.0" text-anchor="middle" fill="#2a2a2a" color="#2a2a2a" textLength="9.3" lengthAdjust="spacingAndGlyphs" >800</text>
<text x="375.2057673509286" y="588.2" font-size="7.0" text-anchor="middle" fill="#2a2a2a" color="#2a2a2a" textLength="12.4" lengthAdjust="spacingAndGlyphs" >1000</text>
<text x="337.1" y="508.5" font-size="10" text-anchor="middle" textLength="59.2" lengthAdjust="spacingAndGlyphs"><tspan font-style="italic">CDK6</tspan><tspan> shRNA</tspan></text>
<text x="319.7" y="554.9" font-size="8.9" text-anchor="middle" fill="#111" color="#111" textLength="9.6" lengthAdjust="spacingAndGlyphs" >2N</text>
<text x="361.8" y="531.7" font-size="8.9" text-anchor="middle" fill="#111" color="#111" textLength="9.6" lengthAdjust="spacingAndGlyphs" >4N</text>
<polyline points="392.70,518.20 481.60,518.20 481.60,578.90" fill="none" stroke="#b0b0b0" stroke-width="0.9"/>
<path d="M424.55,578.90 L424.55,575.29 L424.90,573.81 L425.25,571.52 L425.60,568.17 L425.95,563.62 L426.30,557.85 L426.65,551.10 L427.00,543.85 L427.35,536.84 L427.70,530.94 L428.05,526.98 L428.40,525.57 L428.75,526.88 L429.10,530.37 L429.45,535.60 L429.80,541.91 L430.15,548.64 L430.50,554.97 L430.85,560.75 L431.20,565.36 L431.55,569.13 L431.90,571.66 L432.25,573.44 L432.60,574.55 L432.95,575.31 L433.30,575.85 L433.65,575.99 L434.00,576.17 L434.35,576.35 L434.70,576.35 L435.05,576.36 L435.40,576.38 L435.75,576.46 L436.10,576.52 L436.45,576.46 L436.80,576.45 L437.15,576.52 L437.50,576.49 L437.85,576.41 L438.20,576.36 L438.55,576.38 L438.90,576.41 L439.25,576.43 L439.60,576.48 L439.95,576.53 L440.30,576.50 L440.65,576.56 L441.00,576.46 L441.35,576.40 L441.70,576.37 L442.05,576.49 L442.40,576.49 L442.75,576.48 L443.10,576.54 L443.45,576.40 L443.80,576.34 L444.15,576.36 L444.50,576.33 L444.85,576.41 L445.20,576.47 L445.55,576.44 L445.90,576.38 L446.25,576.35 L446.60,576.47 L446.95,576.43 L447.30,576.33 L447.65,576.30 L448.00,576.23 L448.35,576.17 L448.70,576.30 L449.05,576.37 L449.40,576.35 L449.75,576.24 L450.10,576.28 L450.45,576.16 L450.80,576.06 L451.15,576.02 L451.50,575.90 L451.85,575.64 L452.20,575.38 L452.55,575.13 L452.90,574.64 L453.25,574.18 L453.60,573.52 L453.95,572.59 L454.30,571.59 L454.65,570.62 L455.00,569.55 L455.35,568.35 L455.70,567.12 L456.05,566.13 L456.40,565.18 L456.75,564.43 L457.10,563.91 L457.45,563.68 L457.80,563.74 L458.15,564.09 L458.50,564.73 L458.85,565.60 L459.20,566.65 L459.55,567.82 L459.90,569.06 L460.25,570.29 L460.60,571.47 L460.95,572.56 L461.30,573.52 L461.65,574.35 L462.00,575.05 L462.35,575.61 L462.70,576.05 L463.05,576.39 L463.40,576.64 L463.75,576.82 L464.10,576.95 L464.45,577.04 L464.80,577.10 L464.80,578.90 Z" fill="#c3c3c3"/>
<path d="M392.70,518.20 L392.70,570.20 L393.05,571.44 L393.40,572.46 L393.75,573.29 L394.10,573.98 L394.45,574.55 L394.80,575.02 L395.15,575.41 L395.50,575.72 L395.85,575.98 L396.20,576.20 L396.55,576.38 L396.90,576.52 L397.25,576.64 L397.60,576.74 L397.95,576.82 L398.30,576.89 L398.65,576.94 L399.00,576.99 L399.35,577.03 L399.70,577.06 L400.05,577.08 L400.40,577.10 L400.75,577.12 L401.10,577.13 L401.45,577.15 L401.80,577.16 L402.15,577.16 L402.50,577.17 L402.85,577.18 L403.20,577.18 L403.55,577.18 L403.90,577.19 L404.25,577.19 L404.60,577.19 L404.95,577.19 L405.30,577.19 L405.65,577.19 L406.00,577.20 L406.35,577.20 L406.70,577.20 L407.05,577.20 L407.40,577.20 L407.75,577.20 L408.10,577.20 L408.45,577.20 L408.80,577.20 L409.15,577.20 L409.50,577.20 L409.85,577.20 L410.20,577.20 L410.55,577.20 L410.90,577.20 L411.25,577.20 L411.60,577.20 L411.95,577.20 L412.30,577.20 L412.65,577.20 L413.00,577.20 L413.35,577.20 L413.70,577.20 L414.05,577.20 L414.40,577.20 L414.75,577.20 L415.10,577.20 L415.45,577.20 L415.80,577.20 L416.15,577.20 L416.50,577.20 L416.85,577.20 L417.20,577.20 L417.55,577.20 L417.90,577.20 L418.25,577.20 L418.60,577.20 L418.95,577.20 L419.30,577.20 L419.65,577.20 L420.00,577.20 L420.35,577.20 L420.70,577.20 L421.05,577.20 L421.40,577.20 L421.75,577.20 L422.10,577.19 L422.45,577.18 L422.80,577.15 L423.15,577.09 L423.50,576.95 L423.85,576.68 L424.20,576.18 L424.55,575.29 L424.90,573.81 L425.25,571.52 L425.60,568.17 L425.95,563.62 L426.30,557.85 L426.65,551.10 L427.00,543.85 L427.35,536.84 L427.70,530.94 L428.05,526.98 L428.40,525.57 L428.75,526.88 L429.10,530.37 L429.45,535.60 L429.80,541.91 L430.15,548.64 L430.50,554.97 L430.85,560.75 L431.20,565.36 L431.55,569.13 L431.90,571.66 L432.25,573.44 L432.60,574.55 L432.95,575.31 L433.30,575.85 L433.65,575.99 L434.00,576.17 L434.35,576.35 L434.70,576.35 L435.05,576.36 L435.40,576.38 L435.75,576.46 L436.10,576.52 L436.45,576.46 L436.80,576.45 L437.15,576.52 L437.50,576.49 L437.85,576.41 L438.20,576.36 L438.55,576.38 L438.90,576.41 L439.25,576.43 L439.60,576.48 L439.95,576.53 L440.30,576.50 L440.65,576.56 L441.00,576.46 L441.35,576.40 L441.70,576.37 L442.05,576.49 L442.40,576.49 L442.75,576.48 L443.10,576.54 L443.45,576.40 L443.80,576.34 L444.15,576.36 L444.50,576.33 L444.85,576.41 L445.20,576.47 L445.55,576.44 L445.90,576.38 L446.25,576.35 L446.60,576.47 L446.95,576.43 L447.30,576.33 L447.65,576.30 L448.00,576.23 L448.35,576.17 L448.70,576.30 L449.05,576.37 L449.40,576.35 L449.75,576.24 L450.10,576.28 L450.45,576.16 L450.80,576.06 L451.15,576.02 L451.50,575.90 L451.85,575.64 L452.20,575.38 L452.55,575.13 L452.90,574.64 L453.25,574.18 L453.60,573.52 L453.95,572.59 L454.30,571.59 L454.65,570.62 L455.00,569.55 L455.35,568.35 L455.70,567.12 L456.05,566.13 L456.40,565.18 L456.75,564.43 L457.10,563.91 L457.45,563.68 L457.80,563.74 L458.15,564.09 L458.50,564.73 L458.85,565.60 L459.20,566.65 L459.55,567.82 L459.90,569.06 L460.25,570.29 L460.60,571.47 L460.95,572.56 L461.30,573.52 L461.65,574.35 L462.00,575.05 L462.35,575.61 L462.70,576.05 L463.05,576.39 L463.40,576.64 L463.75,576.82 L464.10,576.95 L464.45,577.04 L464.80,577.10 L465.15,577.14 L465.50,577.16 L465.85,577.18 L466.20,577.19 L466.55,577.19 L466.90,577.20 L467.25,577.20 L467.60,577.20 L467.95,577.20 L468.30,577.20 L468.65,577.20 L469.00,577.20 L469.35,577.20 L469.70,577.20 L470.05,577.20 L470.40,577.20 L470.75,577.20 L471.10,577.20 L471.45,577.20 L471.80,577.20 L472.15,577.20 L472.50,577.20 L472.85,577.20 L473.20,577.20 L473.55,577.20 L473.90,577.20 L474.25,577.20 L474.60,577.20 L474.95,577.20 L475.30,577.20 L475.65,577.20 L476.00,577.20 L476.35,577.20 L476.70,577.20 L477.05,577.20 L477.40,577.20 L477.75,577.20 L478.10,577.20 L478.45,577.20 L478.80,577.20 L479.15,577.20 L479.50,577.20 L479.85,577.20 L480.20,577.20 L480.55,577.20 L480.90,577.20 L481.25,577.20 L481.20,577.20 L481.20,561.30 L481.20,578.90" fill="none" stroke="#000" stroke-width="1.15" stroke-linejoin="round"/>
<line x1="392.7" y1="518.2" x2="392.7" y2="579.1999999999999" stroke="#000" stroke-width="1.3" />
<line x1="391.4" y1="578.9" x2="392.7" y2="578.9" stroke="#666" stroke-width="0.6" />
<text x="390.09999999999997" y="581.6" font-size="7.5" text-anchor="end" fill="#2a2a2a" color="#2a2a2a" textLength="3.13" lengthAdjust="spacingAndGlyphs" >0</text>
<line x1="391.4" y1="565.62" x2="392.7" y2="565.62" stroke="#666" stroke-width="0.6" />
<text x="390.09999999999997" y="568.32" font-size="7.5" text-anchor="end" fill="#2a2a2a" color="#2a2a2a" textLength="9.39" lengthAdjust="spacingAndGlyphs" >200</text>
<line x1="391.4" y1="552.34" x2="392.7" y2="552.34" stroke="#666" stroke-width="0.6" />
<text x="390.09999999999997" y="555.0400000000001" font-size="7.5" text-anchor="end" fill="#2a2a2a" color="#2a2a2a" textLength="9.39" lengthAdjust="spacingAndGlyphs" >400</text>
<line x1="391.4" y1="539.06" x2="392.7" y2="539.06" stroke="#666" stroke-width="0.6" />
<text x="390.09999999999997" y="541.76" font-size="7.5" text-anchor="end" fill="#2a2a2a" color="#2a2a2a" textLength="9.39" lengthAdjust="spacingAndGlyphs" >600</text>
<line x1="391.4" y1="525.78" x2="392.7" y2="525.78" stroke="#666" stroke-width="0.6" />
<text x="390.09999999999997" y="528.48" font-size="7.5" text-anchor="end" fill="#2a2a2a" color="#2a2a2a" textLength="9.39" lengthAdjust="spacingAndGlyphs" >800</text>
<text x="392.7" y="588.2" font-size="7.0" text-anchor="middle" fill="#2a2a2a" color="#2a2a2a" textLength="3.1" lengthAdjust="spacingAndGlyphs" >0</text>
<text x="410.0802541544477" y="588.2" font-size="7.0" text-anchor="middle" fill="#2a2a2a" color="#2a2a2a" textLength="9.3" lengthAdjust="spacingAndGlyphs" >200</text>
<text x="427.4605083088954" y="588.2" font-size="7.0" text-anchor="middle" fill="#2a2a2a" color="#2a2a2a" textLength="9.3" lengthAdjust="spacingAndGlyphs" >400</text>
<text x="444.84076246334314" y="588.2" font-size="7.0" text-anchor="middle" fill="#2a2a2a" color="#2a2a2a" textLength="9.3" lengthAdjust="spacingAndGlyphs" >600</text>
<text x="462.22101661779084" y="588.2" font-size="7.0" text-anchor="middle" fill="#2a2a2a" color="#2a2a2a" textLength="9.3" lengthAdjust="spacingAndGlyphs" >800</text>
<text x="479.60127077223854" y="588.2" font-size="7.0" text-anchor="middle" fill="#2a2a2a" color="#2a2a2a" textLength="12.4" lengthAdjust="spacingAndGlyphs" >1000</text>
<text x="439.3" y="508.5" font-size="10" text-anchor="middle" textLength="91.8" lengthAdjust="spacingAndGlyphs"><tspan font-style="italic">CDK4</tspan><tspan>+</tspan><tspan font-style="italic">CDK6</tspan><tspan> shRNA</tspan></text>
<text x="413.5" y="530.3" font-size="8.9" text-anchor="middle" fill="#111" color="#111" textLength="9.6" lengthAdjust="spacingAndGlyphs" >2N</text>
<text x="453.6" y="554.0" font-size="8.9" text-anchor="middle" fill="#111" color="#111" textLength="9.6" lengthAdjust="spacingAndGlyphs" >4N</text>
</svg></body></html>
